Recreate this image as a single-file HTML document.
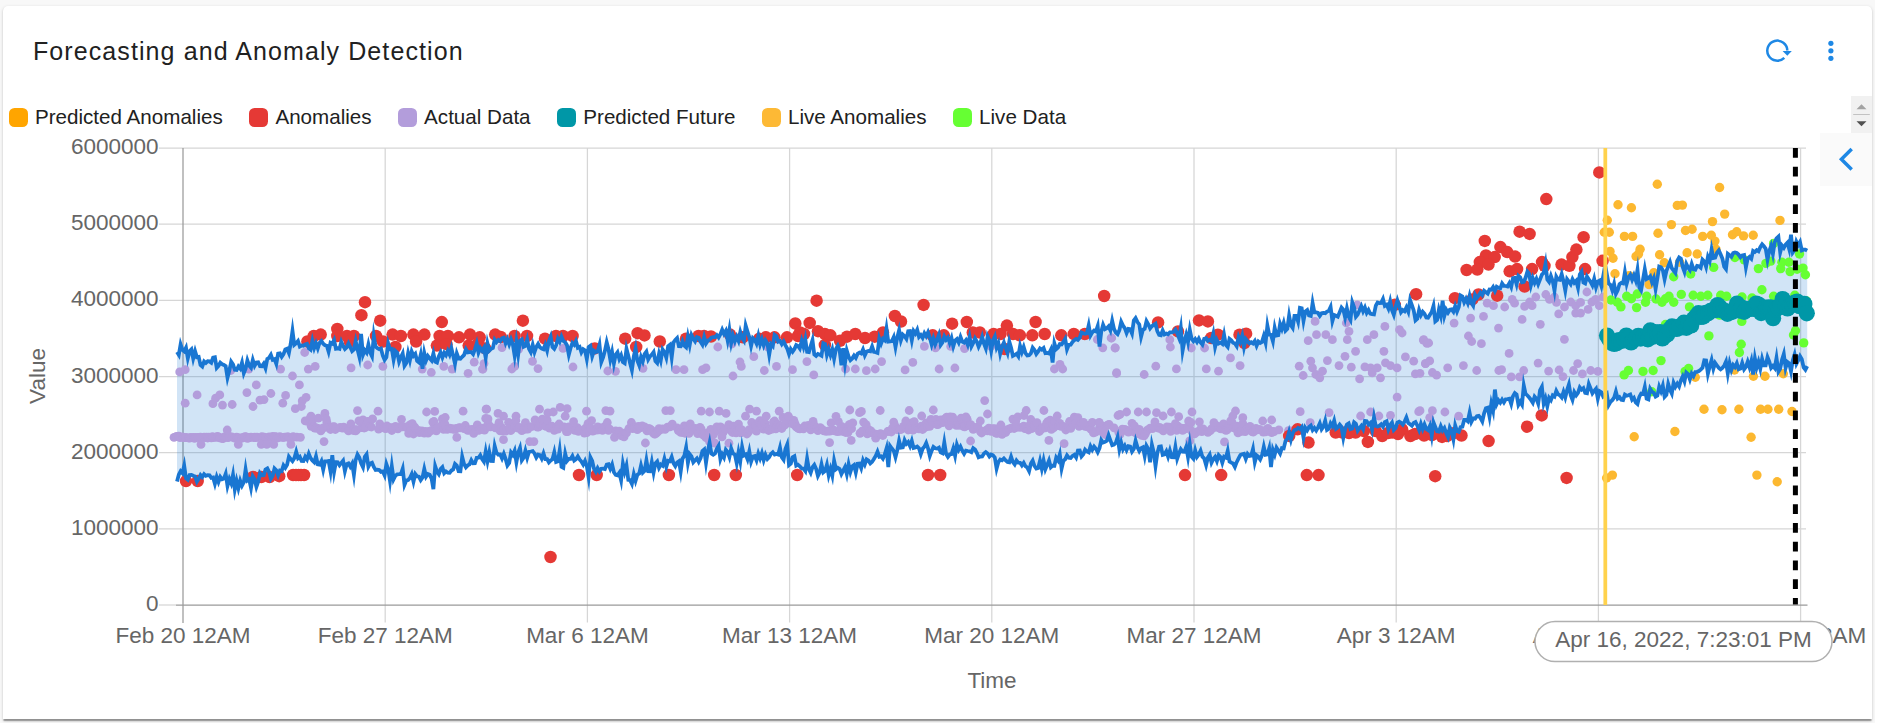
<!DOCTYPE html>
<html lang="en"><head><meta charset="utf-8"><title>Forecasting and Anomaly Detection</title>
<style>
html,body{margin:0;padding:0}
body{width:1877px;height:723px;overflow:hidden;background:#f8f8f8;position:relative;font-family:"Liberation Sans",Arial,sans-serif}
.card{position:absolute;left:3px;top:6px;width:1869px;height:713px;background:#fff;border-radius:5px 5px 0 0;
 box-shadow:0 2.5px 1.25px -1.25px rgba(0,0,0,.22),0 1.25px 1.25px 0 rgba(0,0,0,.16),0 1.25px 3.75px 0 rgba(0,0,0,.14)}
.title{position:absolute;left:33px;top:36px;font-size:25px;line-height:30px;letter-spacing:1.09px;color:#212121;white-space:nowrap}
.lm{position:absolute;top:108px;width:19px;height:19px;border-radius:5.5px}
.lt{position:absolute;top:105px;font-size:20.6px;line-height:24px;color:#212121;white-space:nowrap}
.chart{position:absolute;left:0;top:0}
.ax{font-family:"Liberation Sans",Arial,sans-serif;font-size:22.5px;fill:#666}
.icons{position:absolute;left:0;top:0}
.scr{position:absolute;left:1851px;top:96px;width:20.8px;height:37px;background:#f1f1f1}
.tog{position:absolute;left:1820px;top:133px;width:52px;height:52.5px;background:#fafafa}
</style></head><body>
<div class="card"></div><div style="position:absolute;left:1875px;top:0;width:2px;height:723px;background:#fff"></div>
<div class="title">Forecasting and Anomaly Detection</div>
<div class="legend"><span class="lm" style="left:9px;background:#ffa500"></span><span class="lt" style="left:35px">Predicted Anomalies</span><span class="lm" style="left:249.4px;background:#e53935"></span><span class="lt" style="left:275.4px">Anomalies</span><span class="lm" style="left:398.1px;background:#b39ddb"></span><span class="lt" style="left:424.1px">Actual Data</span><span class="lm" style="left:557.3px;background:#0097a7"></span><span class="lt" style="left:583.3px">Predicted Future</span><span class="lm" style="left:762px;background:#fdb935"></span><span class="lt" style="left:788px">Live Anomalies</span><span class="lm" style="left:953.1px;background:#66ff33"></span><span class="lt" style="left:979.1px">Live Data</span></div>
<div class="scr"></div>
<div class="tog"></div>
<svg class="chart" width="1877" height="723" viewBox="0 0 1877 723"><g stroke="#d6d6d6" stroke-width="1.25" fill="none"><line x1="159" y1="148" x2="1806" y2="148"/><line x1="159" y1="224.2" x2="1806" y2="224.2"/><line x1="159" y1="300.3" x2="1806" y2="300.3"/><line x1="159" y1="376.5" x2="1806" y2="376.5"/><line x1="159" y1="452.7" x2="1806" y2="452.7"/><line x1="159" y1="528.8" x2="1806" y2="528.8"/><line x1="159" y1="605" x2="176" y2="605"/><line x1="385.2" y1="148" x2="385.2" y2="622.5"/><line x1="587.4" y1="148" x2="587.4" y2="622.5"/><line x1="789.6" y1="148" x2="789.6" y2="622.5"/><line x1="991.8" y1="148" x2="991.8" y2="622.5"/><line x1="1194" y1="148" x2="1194" y2="622.5"/><line x1="1396.2" y1="148" x2="1396.2" y2="622.5"/><line x1="1598.4" y1="148" x2="1598.4" y2="622.5"/><line x1="1800.6" y1="148" x2="1800.6" y2="622.5"/></g><g stroke="#9a9a9a" stroke-width="1.25" fill="none"><line x1="183" y1="148" x2="183" y2="623"/><line x1="176" y1="605" x2="1807.5" y2="605"/></g><g class="ax" text-anchor="end"><text x="158.6" y="154">6000000</text><text x="158.6" y="230.2">5000000</text><text x="158.6" y="306.3">4000000</text><text x="158.6" y="382.5">3000000</text><text x="158.6" y="458.7">2000000</text><text x="158.6" y="534.8">1000000</text><text x="158.6" y="611">0</text></g><g class="ax" text-anchor="middle"><text x="183" y="643">Feb 20 12AM</text><text x="385.2" y="643">Feb 27 12AM</text><text x="587.4" y="643">Mar 6 12AM</text><text x="789.6" y="643">Mar 13 12AM</text><text x="991.8" y="643">Mar 20 12AM</text><text x="1194" y="643">Mar 27 12AM</text><text x="1396.2" y="643">Apr 3 12AM</text><text x="1598.4" y="643">Apr 10 12AM</text><text x="1800.6" y="643">Apr 17 12AM</text><text x="992" y="688">Time</text><text transform="translate(45,376) rotate(-90)">Value</text></g><path d="M177 352.1L178.8 354.9L180.6 344.5L182.4 349.9L184.2 351.4L186 347.8L187.8 358.3L189.6 351.2L191.4 349.4L193.2 358.5L195.1 351.2L196.9 357.2L198.7 356.9L200.5 364.9L202.3 366.5L204.1 361.4L205.9 363L207.7 361.2L209.5 361.4L211.3 362.7L213.1 357.6L214.9 357.2L216.7 367.9L218.5 365.9L220.3 362.6L222.1 364.1L223.9 365L225.7 366.1L227.5 377.7L229.4 370.4L231.2 361.7L233 364.3L234.8 369.8L236.6 370L238.4 366.4L240.2 368.6L242 362.6L243.8 373.1L245.6 368.6L247.4 360.4L249.2 365.5L251 367.7L252.8 360L254.6 365.8L256.4 362.5L258.2 362.3L260 366.1L261.9 366.2L263.7 363.7L265.5 368.2L267.3 358.9L269.1 357.8L270.9 354.8L272.7 359.8L274.5 359.2L276.3 363.9L278.1 353.7L279.9 353.4L281.7 356.8L283.5 354.2L285.3 349.4L287.1 348.7L288.9 353L290.7 343.7L292.5 330.8L294.3 344.8L296.2 343.2L298 341L299.8 346.5L301.6 345.5L303.4 345.8L305.2 344.4L307 343.8L308.8 348.3L310.6 349.7L312.4 340.8L314.2 348.1L316 343.2L317.8 348.3L319.6 342.7L321.4 340.9L323.2 343.7L325 345.2L326.8 345.7L328.6 351.7L330.5 342.8L332.3 343.7L334.1 340.1L335.9 348.7L337.7 348.3L339.5 348.9L341.3 341.8L343.1 346L344.9 349L346.7 347.3L348.5 343.4L350.3 347.2L352.1 351.2L353.9 349.5L355.7 341.1L357.5 349.2L359.3 356.5L361.1 334L363 354.8L364.8 350.3L366.6 352.6L368.4 344.4L370.2 352.6L372 356.3L373.8 335.8L375.6 346.6L377.4 348.1L379.2 349.2L381 348.5L382.8 355.6L384.6 359.9L386.4 357.3L388.2 343.4L390 349.2L391.8 348.9L393.6 359.8L395.4 351L397.3 352.8L399.1 361.8L400.9 357.3L402.7 353.5L404.5 365.8L406.3 363L408.1 353.1L409.9 360.3L411.7 351.5L413.5 355.8L415.3 353.8L417.1 361L418.9 362.4L420.7 354.7L422.5 368.8L424.3 353L426.1 360.4L427.9 356L429.7 358.3L431.6 360.5L433.4 353.4L435.2 361.7L437 362.6L438.8 356.3L440.6 352.5L442.4 357.6L444.2 352.8L446 355.2L447.8 350.8L449.6 354.7L451.4 348.3L453.2 355.8L455 363.9L456.8 353.5L458.6 358.5L460.4 358.8L462.2 356.8L464.1 354.9L465.9 349.3L467.7 352.4L469.5 352.2L471.3 352.1L473.1 354.1L474.9 349.3L476.7 343.4L478.5 352.6L480.3 348L482.1 350.8L483.9 347.9L485.7 358L487.5 343.4L489.3 350.6L491.1 348.9L492.9 348L494.7 339.7L496.5 342.2L498.4 339.9L500.2 341.1L502 338.3L503.8 337.7L505.6 343.3L507.4 339.2L509.2 344.4L511 339.5L512.8 344.3L514.6 355.5L516.4 341.9L518.2 354.6L520 340.8L521.8 339.4L523.6 346.8L525.4 345.9L527.2 339.5L529 348.8L530.8 352.1L532.7 344.9L534.5 352.2L536.3 347L538.1 343.9L539.9 347.3L541.7 348.5L543.5 349.2L545.3 344.6L547.1 350.5L548.9 341.4L550.7 336.8L552.5 347L554.3 348.8L556.1 345.4L557.9 338.6L559.7 341.8L561.5 336.7L563.3 340.9L565.2 342.4L567 345.1L568.8 354.7L570.6 347.9L572.4 343L574.2 344.8L576 341.1L577.8 347.7L579.6 346.8L581.4 352.4L583.2 349.2L585 350.3L586.8 359.1L588.6 347.1L590.4 345.8L592.2 356.3L594 350.8L595.8 352.1L597.6 351.6L599.5 344.8L601.3 362L603.1 357.3L604.9 350.8L606.7 342.2L608.5 349.2L610.3 359.8L612.1 352L613.9 363.5L615.7 354.7L617.5 352.3L619.3 358.9L621.1 355.3L622.9 362.1L624.7 363.3L626.5 348.7L628.3 355.6L630.1 363.2L631.9 370.1L633.8 356.4L635.6 348.4L637.4 360.7L639.2 365.3L641 356.9L642.8 361.4L644.6 354.1L646.4 351.6L648.2 359.4L650 356.3L651.8 354.5L653.6 352.1L655.4 361.1L657.2 363L659 353.9L660.8 360.3L662.6 349.4L664.4 352L666.3 357.8L668.1 346.3L669.9 344.8L671.7 357.5L673.5 342.5L675.3 339.9L677.1 338L678.9 346.2L680.7 346.3L682.5 341.1L684.3 345.7L686.1 347.3L687.9 336.6L689.7 345L691.5 335.1L693.3 338.7L695.1 341.4L696.9 337.1L698.7 337.8L700.6 341.9L702.4 344.7L704.2 337L706 343.5L707.8 340.7L709.6 339.7L711.4 337.7L713.2 337.1L715 337.2L716.8 335.2L718.6 337.5L720.4 334.2L722.2 329.7L724 333.9L725.8 330.9L727.6 340.2L729.4 329.8L731.2 343.1L733 335.5L734.9 341.2L736.7 336.7L738.5 340.8L740.3 332.1L742.1 337.9L743.9 340.7L745.7 325.6L747.5 331.5L749.3 337.1L751.1 346.1L752.9 338.1L754.7 339.8L756.5 343.6L758.3 335.9L760.1 344.5L761.9 339.2L763.7 345.3L765.5 340.4L767.4 343.4L769.2 354.8L771 344.1L772.8 346.1L774.6 334.8L776.4 336.1L778.2 341.6L780 340.8L781.8 344.1L783.6 341.5L785.4 345.1L787.2 348.5L789 354.1L790.8 349.1L792.6 351.7L794.4 349L796.2 345.1L798 346L799.8 348.6L801.7 340.7L803.5 346.8L805.3 339.2L807.1 351.9L808.9 352.1L810.7 346L812.5 340.2L814.3 354.5L816.1 355.9L817.9 354L819.7 354.7L821.5 355.7L823.3 343.3L825.1 344.1L826.9 355L828.7 349.3L830.5 355L832.3 349.5L834.1 358.8L836 349L837.8 345.8L839.6 350.3L841.4 365.2L843.2 348.1L845 363.3L846.8 350.6L848.6 356.6L850.4 360.2L852.2 358.5L854 355.5L855.8 357.9L857.6 353.7L859.4 352.6L861.2 353.5L863 349.5L864.8 355.3L866.6 351.6L868.5 350.9L870.3 351.3L872.1 346.4L873.9 351.9L875.7 352.2L877.5 352.9L879.3 338.5L881.1 343.6L882.9 338.9L884.7 340.3L886.5 328.7L888.3 341.7L890.1 341.4L891.9 341L893.7 337.1L895.5 347.1L897.3 337.3L899.1 330.2L900.9 340.2L902.8 334.6L904.6 336.2L906.4 338.9L908.2 331.3L910 331.1L911.8 340.4L913.6 330.9L915.4 333.5L917.2 329.8L919 336.9L920.8 335L922.6 337.8L924.4 333.2L926.2 336.2L928 332.3L929.8 337.5L931.6 344.4L933.4 338.3L935.2 344.3L937.1 339.7L938.9 334.8L940.7 345L942.5 342.5L944.3 336.5L946.1 339.9L947.9 337.6L949.7 342.8L951.5 337.9L953.3 346.3L955.1 340.5L956.9 339L958.7 342.5L960.5 336.9L962.3 341.7L964.1 342.6L965.9 340.3L967.7 344.7L969.6 336.9L971.4 346.6L973.2 343.1L975 338.4L976.8 341.6L978.6 346.8L980.4 342.8L982.2 336.9L984 343.8L985.8 348.5L987.6 336.4L989.4 340.4L991.2 350.8L993 340.3L994.8 336.6L996.6 347.4L998.4 343.2L1000.2 353.7L1002 346.9L1003.9 342.5L1005.7 348.1L1007.5 352.9L1009.3 341.6L1011.1 347.8L1012.9 355.9L1014.7 355L1016.5 353.8L1018.3 356.4L1020.1 346L1021.9 352L1023.7 347L1025.5 353.1L1027.3 355.4L1029.1 355.2L1030.9 353.3L1032.7 347.6L1034.5 349.9L1036.3 354.1L1038.2 351.5L1040 348.4L1041.8 349.7L1043.6 348.1L1045.4 353.2L1047.2 352.9L1049 353.5L1050.8 349.8L1052.6 362.6L1054.4 343.4L1056.2 349.1L1058 347.5L1059.8 344.1L1061.6 344.4L1063.4 341.9L1065.2 338.8L1067 349.4L1068.8 344.9L1070.7 344.8L1072.5 342L1074.3 340.2L1076.1 339L1077.9 339.9L1079.7 337.8L1081.5 332.5L1083.3 333.3L1085.1 333.7L1086.9 333.2L1088.7 325.3L1090.5 335.6L1092.3 332.4L1094.1 330.6L1095.9 331.4L1097.7 326.1L1099.5 346.5L1101.3 331.6L1103.1 324.8L1105 329.2L1106.8 328.3L1108.6 326.4L1110.4 330.4L1112.2 320.8L1114 328.9L1115.8 332.6L1117.6 334.2L1119.4 330.1L1121.2 321.8L1123 325.6L1124.8 328.2L1126.6 333.1L1128.4 328.8L1130.2 329.2L1132 333.5L1133.8 320.6L1135.6 318.2L1137.5 322.1L1139.3 324.4L1141.1 336.8L1142.9 329.8L1144.7 328.7L1146.5 321.1L1148.3 324.3L1150.1 328.4L1151.9 326.1L1153.7 324.9L1155.5 323.7L1157.3 331.2L1159.1 334.8L1160.9 335.2L1162.7 330.4L1164.5 334.4L1166.3 333.5L1168.1 334.3L1169.9 332.3L1171.8 332.3L1173.6 331.9L1175.4 329.7L1177.2 333.2L1179 337.8L1180.8 327.9L1182.6 350.7L1184.4 341.1L1186.2 334.7L1188 342.1L1189.8 329.7L1191.6 338.7L1193.4 341.2L1195.2 339L1197 342L1198.8 338.7L1200.6 342.5L1202.4 344.6L1204.2 338.7L1206.1 338.2L1207.9 340.8L1209.7 340L1211.5 341.3L1213.3 333.8L1215.1 347L1216.9 340L1218.7 343.5L1220.5 342.6L1222.3 343.9L1224.1 334.9L1225.9 345L1227.7 347L1229.5 338.8L1231.3 340.3L1233.1 342.8L1234.9 343.5L1236.7 346.2L1238.6 337L1240.4 341.3L1242.2 335.7L1244 347.2L1245.8 339.1L1247.6 341.4L1249.4 343.4L1251.2 342.3L1253 343.4L1254.8 341L1256.6 345.9L1258.4 341.5L1260.2 342.9L1262 341.9L1263.8 335.9L1265.6 342.7L1267.4 325.5L1269.2 334.5L1271 334.8L1272.9 341.3L1274.7 327.8L1276.5 335.5L1278.3 335.2L1280.1 324L1281.9 328.9L1283.7 322.8L1285.5 330.7L1287.3 328.8L1289.1 315.7L1290.9 325.2L1292.7 327.9L1294.5 315.8L1296.3 315.7L1298.1 321.6L1299.9 307.8L1301.7 308.3L1303.5 320.9L1305.3 311.6L1307.2 310.1L1309 315.4L1310.8 315.9L1312.6 302.9L1314.4 312.3L1316.2 312.3L1318 312.9L1319.8 315.8L1321.6 313.3L1323.4 313L1325.2 313.2L1327 311.6L1328.8 310.9L1330.6 307L1332.4 321.1L1334.2 315L1336 315.8L1337.8 316.7L1339.7 312.1L1341.5 307.6L1343.3 309.7L1345.1 317.5L1346.9 308.5L1348.7 316.7L1350.5 319.9L1352.3 302.3L1354.1 307.2L1355.9 316.8L1357.7 314.6L1359.5 310.2L1361.3 306.2L1363.1 311.3L1364.9 307.5L1366.7 312.9L1368.5 310L1370.3 313.7L1372.1 314.1L1374 314.4L1375.8 305.7L1377.6 302.5L1379.4 303L1381.2 302.9L1383 299L1384.8 305.9L1386.6 304.8L1388.4 308.7L1390.2 301.3L1392 310.2L1393.8 314.8L1395.6 306.9L1397.4 300.5L1399.2 306.1L1401 312.3L1402.8 310.1L1404.6 311.3L1406.4 307.4L1408.3 311.8L1410.1 300.1L1411.9 305.1L1413.7 310.5L1415.5 320.3L1417.3 318.7L1419.1 310L1420.9 315.1L1422.7 311.8L1424.5 313.9L1426.3 317.5L1428.1 317.8L1429.9 314.8L1431.7 312L1433.5 305.9L1435.3 321.4L1437.1 319.9L1438.9 309.6L1440.8 316L1442.6 300.6L1444.4 315.9L1446.2 309.7L1448 312.7L1449.8 309.7L1451.6 309.4L1453.4 311.8L1455.2 306.1L1457 311.5L1458.8 306.9L1460.6 295.5L1462.4 296.6L1464.2 302.3L1466 298.8L1467.8 303.1L1469.6 295.8L1471.4 302.9L1473.2 305.7L1475.1 294.8L1476.9 297.9L1478.7 295.5L1480.5 292.7L1482.3 295L1484.1 290.8L1485.9 292.3L1487.7 293.6L1489.5 289.5L1491.3 289.7L1493.1 287L1494.9 291L1496.7 286.7L1498.5 287.8L1500.3 288.3L1502.1 283.4L1503.9 285.9L1505.7 286L1507.5 286.5L1509.4 283.1L1511.2 287L1513 278.2L1514.8 277.9L1516.6 284.3L1518.4 275.7L1520.2 277.3L1522 282.3L1523.8 281.9L1525.6 277.5L1527.4 271.6L1529.2 273.7L1531 285L1532.8 278.2L1534.6 282.9L1536.4 278.9L1538.2 284.1L1540 279.6L1541.9 274.6L1543.7 272.9L1545.5 263.8L1547.3 279.6L1549.1 281.9L1550.9 276L1552.7 281L1554.5 290.8L1556.3 276.6L1558.1 279.6L1559.9 279.9L1561.7 274.1L1563.5 281.1L1565.3 290.6L1567.1 279.2L1568.9 281.6L1570.7 284.2L1572.5 279.2L1574.3 282.7L1576.2 280.7L1578 287.7L1579.8 274.4L1581.6 271.7L1583.4 282.5L1585.2 283.5L1587 276.6L1588.8 279.3L1590.6 281.8L1592.4 285.3L1594.2 278.8L1596 287.3L1597.8 281.4L1599.6 280.4L1601.4 286.1L1603.2 276.1L1605 286.4L1606.8 273.8L1608.6 283.5L1610.5 285L1612.3 290.3L1614.1 283.9L1615.9 293.9L1617.7 290.4L1619.5 284.1L1621.3 282.9L1623.1 283.4L1624.9 272.2L1626.7 283.7L1628.5 277.3L1630.3 274.8L1632.1 279.7L1633.9 275.2L1635.7 280.3L1637.5 269.7L1639.3 287.6L1641.1 290.3L1643 279.7L1644.8 269.1L1646.6 279L1648.4 278L1650.2 276.3L1652 282.3L1653.8 278.1L1655.6 289.1L1657.4 278.5L1659.2 266.5L1661 267.2L1662.8 270.2L1664.6 279.3L1666.4 271L1668.2 266.4L1670 262L1671.8 268.2L1673.6 270.5L1675.4 272.9L1677.3 260.8L1679.1 257.5L1680.9 258.7L1682.7 267.1L1684.5 272L1686.3 263.9L1688.1 267.6L1689.9 270.1L1691.7 263.9L1693.5 269.2L1695.3 269.7L1697.1 265.8L1698.9 266.2L1700.7 267.7L1702.5 259.6L1704.3 261.4L1706.1 266.9L1707.9 256.9L1709.7 261.1L1711.6 249.3L1713.4 258L1715.2 257.7L1717 252.6L1718.8 250.3L1720.6 254.2L1722.4 258.6L1724.2 266.6L1726 269.1L1727.8 253.8L1729.6 255.3L1731.4 256.8L1733.2 253.1L1735 252.5L1736.8 253L1738.6 254.6L1740.4 257.3L1742.2 255.4L1744.1 255L1745.9 267.4L1747.7 258.4L1749.5 256.9L1751.3 258.7L1753.1 250.9L1754.9 252L1756.7 250.2L1758.5 251.3L1760.3 247.1L1762.1 244.3L1763.9 246.3L1765.7 248.7L1767.5 259.7L1769.3 251L1771.1 245.8L1772.9 254L1774.7 242.2L1776.5 238.5L1778.4 236.7L1780.2 252.5L1782 245.6L1783.8 247.8L1785.6 244.5L1787.4 242.6L1789.2 249.1L1791 234.8L1792.8 252.5L1794.6 250L1796.4 241.6L1798.2 245.1L1800 242L1801.8 250.4L1803.6 249.7L1805.4 249.6L1807.2 250.6L1807.2 366.1L1805.4 369.8L1803.6 367.5L1801.8 359.3L1800 356.2L1798.2 360.4L1796.4 363.9L1794.6 354.5L1792.8 360.2L1791 371.4L1789.2 363.4L1787.4 362L1785.6 368.1L1783.8 354L1782 359.8L1780.2 368.7L1778.4 371.7L1776.5 357.9L1774.7 368.1L1772.9 365.9L1771.1 367.9L1769.3 361.6L1767.5 357.1L1765.7 365.3L1763.9 365.3L1762.1 358.9L1760.3 368.7L1758.5 361.7L1756.7 367.5L1754.9 358.3L1753.1 374.6L1751.3 360.9L1749.5 367.2L1747.7 361.6L1745.9 366.9L1744.1 369.3L1742.2 362.9L1740.4 368.6L1738.6 369.3L1736.8 363.3L1735 367.1L1733.2 364.9L1731.4 369.9L1729.6 363.2L1727.8 373.6L1726 361.6L1724.2 365.6L1722.4 367.9L1720.6 369.3L1718.8 367.9L1717 365.5L1715.2 363L1713.4 368.7L1711.6 360L1709.7 366.5L1707.9 373.8L1706.1 360.4L1704.3 360.2L1702.5 367.9L1700.7 369.7L1698.9 371.1L1697.1 371.8L1695.3 372L1693.5 376.1L1691.7 373.5L1689.9 379.4L1688.1 374L1686.3 372.5L1684.5 381.4L1682.7 376.4L1680.9 380.3L1679.1 386.5L1677.3 383.6L1675.4 386.9L1673.6 382.8L1671.8 393.6L1670 389.8L1668.2 383.9L1666.4 395L1664.6 396.9L1662.8 385.6L1661 391.3L1659.2 386.8L1657.4 395.6L1655.6 396.6L1653.8 392.9L1652 391.7L1650.2 388.8L1648.4 399.4L1646.6 398.7L1644.8 386.8L1643 394.1L1641.1 393.7L1639.3 396.9L1637.5 404L1635.7 402.3L1633.9 397.8L1632.1 399.7L1630.3 394.5L1628.5 395.3L1626.7 395.7L1624.9 394.6L1623.1 400.1L1621.3 399.7L1619.5 397.2L1617.7 398.5L1615.9 391.5L1614.1 397.7L1612.3 400.2L1610.5 401.8L1608.6 405.2L1606.8 393.6L1605 395.2L1603.2 396.5L1601.4 392.3L1599.6 391.2L1597.8 398.5L1596 388.7L1594.2 390.8L1592.4 393.3L1590.6 388.5L1588.8 384L1587 393.3L1585.2 392.9L1583.4 388.1L1581.6 389.6L1579.8 387.4L1578 392.9L1576.2 395.4L1574.3 392.1L1572.5 399.9L1570.7 395.2L1568.9 384.4L1567.1 390.1L1565.3 397.4L1563.5 391.9L1561.7 397.5L1559.9 395.3L1558.1 394.3L1556.3 390.9L1554.5 396.6L1552.7 395.4L1550.9 400.2L1549.1 397.9L1547.3 406.3L1545.5 398.3L1543.7 403.6L1541.9 386.7L1540 390.3L1538.2 403.7L1536.4 398.7L1534.6 396.6L1532.8 402.7L1531 399.9L1529.2 397.5L1527.4 395.5L1525.6 393.8L1523.8 385.4L1522 404.7L1520.2 401.7L1518.4 404.8L1516.6 394.5L1514.8 393L1513 396.1L1511.2 404L1509.4 398.7L1507.5 399.1L1505.7 399.3L1503.9 402.4L1502.1 399.6L1500.3 402.7L1498.5 400.3L1496.7 404.1L1494.9 389.6L1493.1 410.6L1491.3 403.6L1489.5 416.7L1487.7 407.7L1485.9 408.3L1484.1 413.3L1482.3 421.4L1480.5 418.1L1478.7 415.8L1476.9 416.1L1475.1 418.7L1473.2 418.3L1471.4 421.8L1469.6 412.6L1467.8 421.2L1466 419.7L1464.2 419.8L1462.4 426.7L1460.6 427.1L1458.8 431.8L1457 431.1L1455.2 425.4L1453.4 439.2L1451.6 430.9L1449.8 427.5L1448 436.9L1446.2 433L1444.4 428L1442.6 430.5L1440.8 426.2L1438.9 431.7L1437.1 431.4L1435.3 426.9L1433.5 422.4L1431.7 435.9L1429.9 425.9L1428.1 430.1L1426.3 428.9L1424.5 424.4L1422.7 429.1L1420.9 423.9L1419.1 429.9L1417.3 425.5L1415.5 422L1413.7 423L1411.9 425.7L1410.1 424.3L1408.3 423L1406.4 417.5L1404.6 421.6L1402.8 424.6L1401 422.7L1399.2 421.7L1397.4 422.5L1395.6 428.1L1393.8 430L1392 422.5L1390.2 424.9L1388.4 429.4L1386.6 421.3L1384.8 422.2L1383 426.7L1381.2 424.3L1379.4 425.8L1377.6 426.5L1375.8 425.8L1374 417.1L1372.1 429.6L1370.3 423L1368.5 424.6L1366.7 421.2L1364.9 420.9L1363.1 429L1361.3 425.8L1359.5 428.1L1357.7 430.6L1355.9 423.8L1354.1 422.3L1352.3 428.6L1350.5 429.2L1348.7 423.4L1346.9 424.6L1345.1 429L1343.3 437.7L1341.5 426.9L1339.7 424.7L1337.8 427.4L1336 428.8L1334.2 420.7L1332.4 426.2L1330.6 423.4L1328.8 428.7L1327 429.9L1325.2 420.6L1323.4 426.7L1321.6 429.3L1319.8 423.3L1318 427.3L1316.2 430.5L1314.4 427.9L1312.6 430.1L1310.8 425.6L1309 427L1307.2 430.3L1305.3 427.7L1303.5 437.6L1301.7 427.1L1299.9 429L1298.1 427.8L1296.3 429.6L1294.5 430.1L1292.7 432.9L1290.9 439.6L1289.1 432.1L1287.3 438.6L1285.5 441L1283.7 448.4L1281.9 448.1L1280.1 453.6L1278.3 450.6L1276.5 447.7L1274.7 454.6L1272.9 449.9L1271 467L1269.2 448.3L1267.4 454.3L1265.6 454.7L1263.8 446.8L1262 455.3L1260.2 459.5L1258.4 456.9L1256.6 455.4L1254.8 462.2L1253 448.9L1251.2 455.6L1249.4 456L1247.6 453.9L1245.8 458.9L1244 453.8L1242.2 454.4L1240.4 455L1238.6 458.4L1236.7 462.2L1234.9 466.9L1233.1 463.5L1231.3 462.7L1229.5 461.6L1227.7 450.7L1225.9 457.6L1224.1 456.7L1222.3 462.8L1220.5 456.9L1218.7 455.1L1216.9 461.2L1215.1 456.9L1213.3 459.1L1211.5 462.7L1209.7 454.7L1207.9 457.6L1206.1 465.1L1204.2 458.5L1202.4 456.7L1200.6 450.7L1198.8 454.4L1197 456.8L1195.2 450.3L1193.4 458.7L1191.6 456.6L1189.8 444.1L1188 457L1186.2 446.9L1184.4 451.7L1182.6 451.6L1180.8 449.2L1179 453.4L1177.2 458.7L1175.4 446.9L1173.6 457.3L1171.8 457.2L1169.9 450.5L1168.1 456.7L1166.3 451.3L1164.5 454.3L1162.7 454.8L1160.9 446.3L1159.1 446.6L1157.3 453.4L1155.5 466.2L1153.7 452.1L1151.9 444.7L1150.1 462.2L1148.3 449L1146.5 445.8L1144.7 456.1L1142.9 447.2L1141.1 448.1L1139.3 451L1137.5 447.3L1135.6 440.8L1133.8 449L1132 451.6L1130.2 446.5L1128.4 446.1L1126.6 450.1L1124.8 445.9L1123 449.2L1121.2 442.5L1119.4 449.5L1117.6 437.2L1115.8 442.8L1114 444.5L1112.2 445.1L1110.4 440.3L1108.6 435.3L1106.8 440.8L1105 441.9L1103.1 442.6L1101.3 440.1L1099.5 448.1L1097.7 452.2L1095.9 448.7L1094.1 446.5L1092.3 449.8L1090.5 446.3L1088.7 452.3L1086.9 451.5L1085.1 449.7L1083.3 454.3L1081.5 456.4L1079.7 450.4L1077.9 450.5L1076.1 457.5L1074.3 454.8L1072.5 455.9L1070.7 458L1068.8 457.7L1067 455.4L1065.2 459.3L1063.4 460.8L1061.6 468.6L1059.8 454.3L1058 460.3L1056.2 457.6L1054.4 465.7L1052.6 465.6L1050.8 467.3L1049 460.5L1047.2 464.9L1045.4 469.2L1043.6 460.4L1041.8 468.9L1040 460.7L1038.2 468L1036.3 468.5L1034.5 466L1032.7 460.6L1030.9 463.5L1029.1 471.1L1027.3 467.6L1025.5 466.3L1023.7 462.8L1021.9 465.4L1020.1 462.7L1018.3 462.6L1016.5 460.5L1014.7 464.4L1012.9 462.1L1011.1 456.8L1009.3 462.3L1007.5 462L1005.7 460.5L1003.9 458.4L1002 460.3L1000.2 459.5L998.4 462.1L996.6 468.7L994.8 457.5L993 455.4L991.2 454.6L989.4 456.4L987.6 453.5L985.8 452.1L984 453.6L982.2 456.5L980.4 456.6L978.6 457.3L976.8 452.9L975 449.5L973.2 448.1L971.4 452.2L969.6 451.3L967.7 451L965.9 450.6L964.1 453.8L962.3 450.7L960.5 446.6L958.7 449.8L956.9 444.8L955.1 455.9L953.3 448.5L951.5 454.1L949.7 454.5L947.9 456.9L946.1 453.9L944.3 442.4L942.5 453.3L940.7 452.4L938.9 447.7L937.1 448.6L935.2 448.3L933.4 446.9L931.6 450.9L929.8 455.9L928 448.2L926.2 442.9L924.4 446.7L922.6 448.8L920.8 454.2L919 448.3L917.2 446.5L915.4 447.5L913.6 447.9L911.8 440.8L910 446.1L908.2 442.1L906.4 443.9L904.6 440.2L902.8 447.4L900.9 447.7L899.1 440.6L897.3 450.2L895.5 457.2L893.7 450.8L891.9 448.5L890.1 446L888.3 467.1L886.5 448.5L884.7 454.6L882.9 458.6L881.1 456.3L879.3 456.7L877.5 451.7L875.7 455.9L873.9 459L872.1 461.9L870.3 463.5L868.5 460.7L866.6 459.4L864.8 464.5L863 460.4L861.2 468.2L859.4 463.6L857.6 463.8L855.8 472.4L854 465L852.2 466.4L850.4 472L848.6 464.2L846.8 474.2L845 467.1L843.2 470.6L841.4 474.1L839.6 469L837.8 467.8L836 469.2L834.1 460.6L832.3 475.6L830.5 468.8L828.7 475.2L826.9 464.6L825.1 470.9L823.3 472.4L821.5 464.2L819.7 472.4L817.9 476L816.1 468.8L814.3 464.8L812.5 467.1L810.7 472.8L808.9 469.1L807.1 458.6L805.3 471L803.5 468.6L801.7 468.5L799.8 466.3L798 464.7L796.2 465.7L794.4 456.2L792.6 457.2L790.8 463.7L789 465.1L787.2 444.6L785.4 449.1L783.6 459.8L781.8 457.3L780 447.6L778.2 454.5L776.4 453.9L774.6 454.6L772.8 452.2L771 453.9L769.2 457L767.4 458.9L765.5 454.7L763.7 460.2L761.9 453.1L760.1 458.4L758.3 453.5L756.5 460.4L754.7 456.1L752.9 456.6L751.1 461.6L749.3 451.3L747.5 459.1L745.7 454.5L743.9 455.5L742.1 447L740.3 461.3L738.5 452.4L736.7 463.1L734.9 454.6L733 453.5L731.2 448.6L729.4 457.1L727.6 452L725.8 449.7L724 457.5L722.2 454.2L720.4 459.2L718.6 445.8L716.8 448.8L715 453.6L713.2 454.7L711.4 453.6L709.6 442.7L707.8 450.9L706 462.9L704.2 449.4L702.4 451L700.6 458L698.7 461.9L696.9 458.4L695.1 460.3L693.3 462.3L691.5 456.3L689.7 454.1L687.9 463L686.1 447.4L684.3 455.8L682.5 458.7L680.7 471.6L678.9 461.2L677.1 462.5L675.3 466.2L673.5 463.3L671.7 457L669.9 461.3L668.1 460.8L666.3 466.9L664.4 458.8L662.6 465.7L660.8 464.5L659 467.8L657.2 461.5L655.4 463.4L653.6 472.5L651.8 462.1L650 471.2L648.2 471.1L646.4 460.1L644.6 470.8L642.8 472.6L641 465.6L639.2 473.6L637.4 474.8L635.6 480.7L633.8 474.1L631.9 483.8L630.1 480.1L628.3 479.9L626.5 465.5L624.7 471.8L622.9 463.6L621.1 480.3L619.3 472.7L617.5 475.3L615.7 474.8L613.9 472.3L612.1 464.6L610.3 468.8L608.5 464.3L606.7 464.7L604.9 469.1L603.1 468.6L601.3 468.7L599.5 471.4L597.6 468L595.8 471.8L594 468.9L592.2 460.8L590.4 457.2L588.6 477.1L586.8 466.1L585 460.8L583.2 464.5L581.4 461.5L579.6 459.5L577.8 456.4L576 459.2L574.2 460.6L572.4 456L570.6 458.9L568.8 458.8L567 461L565.2 453.6L563.3 467.8L561.5 466.9L559.7 450.2L557.9 461.4L556.1 462L554.3 452.2L552.5 459.3L550.7 460.5L548.9 462.4L547.1 459L545.3 459L543.5 453.4L541.7 458.5L539.9 455.1L538.1 454.7L536.3 457.5L534.5 453.4L532.7 451.1L530.8 451.5L529 451.8L527.2 457.8L525.4 450.8L523.6 457.6L521.8 460.3L520 447.8L518.2 452.4L516.4 462.3L514.6 450.7L512.8 454.9L511 452.4L509.2 462.9L507.4 465.4L505.6 458.9L503.8 453.8L502 458.4L500.2 454.5L498.4 454.7L496.5 452.8L494.7 446.1L492.9 461L491.1 460.9L489.3 452.1L487.5 461.1L485.7 451.5L483.9 461.6L482.1 459L480.3 455.2L478.5 457.8L476.7 457.9L474.9 463.3L473.1 463.4L471.3 460.2L469.5 464.5L467.7 465.4L465.9 467.3L464.1 464.1L462.2 456.7L460.4 471.4L458.6 471.3L456.8 465.5L455 463.9L453.2 469.5L451.4 470.5L449.6 472.8L447.8 472.7L446 471.5L444.2 473.2L442.4 467.2L440.6 469.1L438.8 474.2L437 471.6L435.2 466.2L433.4 489.2L431.6 478.6L429.7 474.8L427.9 474L426.1 476.7L424.3 468.9L422.5 477.5L420.7 480.1L418.9 476.6L417.1 476.3L415.3 474L413.5 481.6L411.7 474.2L409.9 478L408.1 480L406.3 480.5L404.5 484.8L402.7 468.6L400.9 474L399.1 474.2L397.3 474.3L395.4 475.7L393.6 479.3L391.8 466.2L390 480.9L388.2 469.1L386.4 464.1L384.6 475.4L382.8 471.5L381 471.9L379.2 470L377.4 469.7L375.6 470L373.8 467L372 462.7L370.2 463.4L368.4 466.7L366.6 454.3L364.8 456.8L363 467.1L361.1 463.2L359.3 457.4L357.5 454.4L355.7 460L353.9 474.9L352.1 463.5L350.3 466.6L348.5 463.3L346.7 464.1L344.9 471.2L343.1 460.6L341.3 462.8L339.5 465.2L337.7 462.3L335.9 462.1L334.1 471.8L332.3 455.2L330.5 471.3L328.6 460.9L326.8 461.3L325 461.3L323.2 469.7L321.4 461.2L319.6 464.6L317.8 464.3L316 456.2L314.2 462.3L312.4 460.6L310.6 458.1L308.8 453.7L307 459.4L305.2 456.7L303.4 461.1L301.6 461L299.8 456.8L298 458.3L296.2 451.7L294.3 458.2L292.5 461.1L290.7 459L288.9 456.6L287.1 464.8L285.3 467.8L283.5 465.3L281.7 471.1L279.9 470.5L278.1 475.1L276.3 470.2L274.5 468.4L272.7 475.8L270.9 478.6L269.1 472L267.3 468.4L265.5 469.4L263.7 475.3L261.9 475.4L260 473L258.2 481.7L256.4 486.9L254.6 479.3L252.8 476.4L251 487.9L249.2 479.3L247.4 480.5L245.6 469.3L243.8 482.2L242 485.6L240.2 480.7L238.4 488.2L236.6 480.8L234.8 489.5L233 474.7L231.2 483.3L229.4 479L227.5 485.9L225.7 473.7L223.9 478.6L222.1 479.3L220.3 476.9L218.5 481.9L216.7 476.9L214.9 483.9L213.1 477.5L211.3 477.9L209.5 475.3L207.7 475.1L205.9 475.8L204.1 474.2L202.3 477.1L200.5 475.1L198.7 478.6L196.9 481.6L195.1 476.4L193.2 475.8L191.4 474.9L189.6 475L187.8 479.7L186 478.2L184.2 465.6L182.4 473.1L180.6 471.2L178.8 474.7L177 481.5Z" fill="#1976d2" fill-opacity="0.2" stroke="none"/><g fill="#b39ddb"><circle cx="174" cy="437.4" r="4.4"/><circle cx="176.4" cy="436.5" r="4.4"/><circle cx="178.8" cy="436.2" r="4.4"/><circle cx="180" cy="437.7" r="4.4"/><circle cx="182.4" cy="437" r="4.4"/><circle cx="183.6" cy="437.5" r="4.4"/><circle cx="184.8" cy="437.7" r="4.4"/><circle cx="186" cy="437.4" r="4.4"/><circle cx="188.4" cy="437.9" r="4.4"/><circle cx="189.6" cy="438.2" r="4.4"/><circle cx="190.8" cy="437.4" r="4.4"/><circle cx="193.3" cy="437.4" r="4.4"/><circle cx="194.5" cy="438.4" r="4.4"/><circle cx="195.7" cy="437.3" r="4.4"/><circle cx="198.1" cy="437.3" r="4.4"/><circle cx="200.5" cy="437.1" r="4.4"/><circle cx="204.1" cy="437.2" r="4.4"/><circle cx="205.3" cy="437.6" r="4.4"/><circle cx="206.5" cy="437.2" r="4.4"/><circle cx="207.7" cy="438" r="4.4"/><circle cx="208.9" cy="437.2" r="4.4"/><circle cx="211.3" cy="437.8" r="4.4"/><circle cx="212.5" cy="436.6" r="4.4"/><circle cx="213.7" cy="437.5" r="4.4"/><circle cx="216.1" cy="437.4" r="4.4"/><circle cx="217.3" cy="436.4" r="4.4"/><circle cx="218.5" cy="437" r="4.4"/><circle cx="219.7" cy="437.9" r="4.4"/><circle cx="220.9" cy="437.9" r="4.4"/><circle cx="222.1" cy="438.5" r="4.4"/><circle cx="223.3" cy="438.5" r="4.4"/><circle cx="224.5" cy="436.9" r="4.4"/><circle cx="225.8" cy="436.5" r="4.4"/><circle cx="227" cy="437.3" r="4.4"/><circle cx="228.2" cy="437.7" r="4.4"/><circle cx="229.4" cy="436.5" r="4.4"/><circle cx="231.8" cy="437" r="4.4"/><circle cx="234.2" cy="438" r="4.4"/><circle cx="236.6" cy="437.2" r="4.4"/><circle cx="237.8" cy="437.8" r="4.4"/><circle cx="239" cy="437.9" r="4.4"/><circle cx="241.4" cy="438" r="4.4"/><circle cx="242.6" cy="438" r="4.4"/><circle cx="243.8" cy="437.3" r="4.4"/><circle cx="245" cy="436.6" r="4.4"/><circle cx="246.2" cy="436.9" r="4.4"/><circle cx="247.4" cy="438.4" r="4.4"/><circle cx="248.6" cy="437.8" r="4.4"/><circle cx="249.8" cy="437.5" r="4.4"/><circle cx="251" cy="437.2" r="4.4"/><circle cx="253.4" cy="437.5" r="4.4"/><circle cx="254.6" cy="437.2" r="4.4"/><circle cx="255.8" cy="437.6" r="4.4"/><circle cx="257" cy="437.1" r="4.4"/><circle cx="261.9" cy="436.6" r="4.4"/><circle cx="263.1" cy="437.5" r="4.4"/><circle cx="264.3" cy="437.2" r="4.4"/><circle cx="265.5" cy="437.6" r="4.4"/><circle cx="269.1" cy="436.9" r="4.4"/><circle cx="270.3" cy="437.4" r="4.4"/><circle cx="271.5" cy="437.6" r="4.4"/><circle cx="272.7" cy="436.4" r="4.4"/><circle cx="273.9" cy="437.5" r="4.4"/><circle cx="275.1" cy="436.6" r="4.4"/><circle cx="276.3" cy="436.9" r="4.4"/><circle cx="277.5" cy="438" r="4.4"/><circle cx="278.7" cy="437.5" r="4.4"/><circle cx="279.9" cy="436.6" r="4.4"/><circle cx="282.3" cy="437.3" r="4.4"/><circle cx="283.5" cy="437.4" r="4.4"/><circle cx="284.7" cy="437.1" r="4.4"/><circle cx="287.1" cy="436.9" r="4.4"/><circle cx="288.3" cy="437" r="4.4"/><circle cx="289.5" cy="438" r="4.4"/><circle cx="291.9" cy="438" r="4.4"/><circle cx="293.2" cy="436.6" r="4.4"/><circle cx="296.8" cy="437.1" r="4.4"/><circle cx="300.4" cy="437.3" r="4.4"/><circle cx="305.2" cy="420.9" r="4.4"/><circle cx="307.6" cy="421.4" r="4.4"/><circle cx="310" cy="418.7" r="4.4"/><circle cx="311.2" cy="426.3" r="4.4"/><circle cx="312.4" cy="420.8" r="4.4"/><circle cx="313.6" cy="426.5" r="4.4"/><circle cx="314.8" cy="428.1" r="4.4"/><circle cx="316" cy="427.8" r="4.4"/><circle cx="317.2" cy="428.1" r="4.4"/><circle cx="318.4" cy="418.1" r="4.4"/><circle cx="319.6" cy="429" r="4.4"/><circle cx="320.8" cy="430.9" r="4.4"/><circle cx="322" cy="428.8" r="4.4"/><circle cx="323.2" cy="428" r="4.4"/><circle cx="326.9" cy="422.3" r="4.4"/><circle cx="328.1" cy="427.4" r="4.4"/><circle cx="330.5" cy="429.5" r="4.4"/><circle cx="331.7" cy="427.5" r="4.4"/><circle cx="332.9" cy="426.8" r="4.4"/><circle cx="334.1" cy="426.6" r="4.4"/><circle cx="335.3" cy="429.5" r="4.4"/><circle cx="340.1" cy="427.5" r="4.4"/><circle cx="342.5" cy="428.2" r="4.4"/><circle cx="343.7" cy="427.1" r="4.4"/><circle cx="346.1" cy="428.5" r="4.4"/><circle cx="348.5" cy="430.9" r="4.4"/><circle cx="349.7" cy="429.3" r="4.4"/><circle cx="350.9" cy="423.9" r="4.4"/><circle cx="353.3" cy="430.5" r="4.4"/><circle cx="354.5" cy="429.7" r="4.4"/><circle cx="355.7" cy="430.9" r="4.4"/><circle cx="356.9" cy="429.6" r="4.4"/><circle cx="361.8" cy="427.7" r="4.4"/><circle cx="363" cy="419.8" r="4.4"/><circle cx="364.2" cy="428" r="4.4"/><circle cx="365.4" cy="427.3" r="4.4"/><circle cx="367.8" cy="421.5" r="4.4"/><circle cx="370.2" cy="426.5" r="4.4"/><circle cx="371.4" cy="427" r="4.4"/><circle cx="372.6" cy="418.9" r="4.4"/><circle cx="378.6" cy="429.2" r="4.4"/><circle cx="379.8" cy="423.9" r="4.4"/><circle cx="383.4" cy="427.6" r="4.4"/><circle cx="384.6" cy="428.2" r="4.4"/><circle cx="385.8" cy="428.7" r="4.4"/><circle cx="387" cy="426" r="4.4"/><circle cx="389.4" cy="427.4" r="4.4"/><circle cx="391.8" cy="430.5" r="4.4"/><circle cx="393" cy="427.6" r="4.4"/><circle cx="395.5" cy="426.4" r="4.4"/><circle cx="397.9" cy="428.9" r="4.4"/><circle cx="399.1" cy="427.2" r="4.4"/><circle cx="401.5" cy="419.3" r="4.4"/><circle cx="402.7" cy="426.8" r="4.4"/><circle cx="406.3" cy="426.9" r="4.4"/><circle cx="407.5" cy="428.2" r="4.4"/><circle cx="408.7" cy="433.4" r="4.4"/><circle cx="409.9" cy="424.9" r="4.4"/><circle cx="411.1" cy="430.3" r="4.4"/><circle cx="412.3" cy="423.6" r="4.4"/><circle cx="413.5" cy="434" r="4.4"/><circle cx="414.7" cy="427.2" r="4.4"/><circle cx="415.9" cy="429.1" r="4.4"/><circle cx="418.3" cy="430.3" r="4.4"/><circle cx="419.5" cy="432.6" r="4.4"/><circle cx="420.7" cy="431.5" r="4.4"/><circle cx="421.9" cy="431" r="4.4"/><circle cx="423.1" cy="431.8" r="4.4"/><circle cx="424.3" cy="433.1" r="4.4"/><circle cx="425.5" cy="431.4" r="4.4"/><circle cx="426.7" cy="432.5" r="4.4"/><circle cx="428" cy="433.2" r="4.4"/><circle cx="429.2" cy="431.4" r="4.4"/><circle cx="431.6" cy="430.5" r="4.4"/><circle cx="432.8" cy="422.1" r="4.4"/><circle cx="434" cy="421.5" r="4.4"/><circle cx="435.2" cy="429" r="4.4"/><circle cx="436.4" cy="430.8" r="4.4"/><circle cx="437.6" cy="428" r="4.4"/><circle cx="441.2" cy="425.9" r="4.4"/><circle cx="442.4" cy="418.9" r="4.4"/><circle cx="443.6" cy="429.4" r="4.4"/><circle cx="444.8" cy="423.9" r="4.4"/><circle cx="446" cy="427.1" r="4.4"/><circle cx="447.2" cy="429.4" r="4.4"/><circle cx="449.6" cy="428.2" r="4.4"/><circle cx="450.8" cy="428.9" r="4.4"/><circle cx="452" cy="428.9" r="4.4"/><circle cx="453.2" cy="429" r="4.4"/><circle cx="454.4" cy="429.3" r="4.4"/><circle cx="455.6" cy="428.8" r="4.4"/><circle cx="456.8" cy="428.4" r="4.4"/><circle cx="459.2" cy="427.6" r="4.4"/><circle cx="460.4" cy="427.9" r="4.4"/><circle cx="462.9" cy="427.9" r="4.4"/><circle cx="464.1" cy="428.7" r="4.4"/><circle cx="465.3" cy="425.5" r="4.4"/><circle cx="466.5" cy="429" r="4.4"/><circle cx="467.7" cy="430.3" r="4.4"/><circle cx="468.9" cy="430" r="4.4"/><circle cx="471.3" cy="429.7" r="4.4"/><circle cx="472.5" cy="429.4" r="4.4"/><circle cx="473.7" cy="433.4" r="4.4"/><circle cx="476.1" cy="429.9" r="4.4"/><circle cx="477.3" cy="424.9" r="4.4"/><circle cx="478.5" cy="430.4" r="4.4"/><circle cx="479.7" cy="429.8" r="4.4"/><circle cx="480.9" cy="428.7" r="4.4"/><circle cx="482.1" cy="428.7" r="4.4"/><circle cx="483.3" cy="428.2" r="4.4"/><circle cx="484.5" cy="430.2" r="4.4"/><circle cx="485.7" cy="418.4" r="4.4"/><circle cx="486.9" cy="427.1" r="4.4"/><circle cx="488.1" cy="423.5" r="4.4"/><circle cx="490.5" cy="426.8" r="4.4"/><circle cx="495.4" cy="427.9" r="4.4"/><circle cx="499" cy="422.7" r="4.4"/><circle cx="500.2" cy="430.9" r="4.4"/><circle cx="501.4" cy="427.3" r="4.4"/><circle cx="502.6" cy="430.8" r="4.4"/><circle cx="503.8" cy="429.8" r="4.4"/><circle cx="506.2" cy="431" r="4.4"/><circle cx="508.6" cy="422.3" r="4.4"/><circle cx="509.8" cy="428.3" r="4.4"/><circle cx="511" cy="430.5" r="4.4"/><circle cx="514.6" cy="426.4" r="4.4"/><circle cx="515.8" cy="420.5" r="4.4"/><circle cx="517" cy="427.7" r="4.4"/><circle cx="518.2" cy="428.2" r="4.4"/><circle cx="519.4" cy="427.4" r="4.4"/><circle cx="521.8" cy="430.7" r="4.4"/><circle cx="524.2" cy="429.4" r="4.4"/><circle cx="525.4" cy="422.6" r="4.4"/><circle cx="526.6" cy="428.8" r="4.4"/><circle cx="527.8" cy="429.2" r="4.4"/><circle cx="531.5" cy="426.6" r="4.4"/><circle cx="535.1" cy="419.9" r="4.4"/><circle cx="536.3" cy="421.8" r="4.4"/><circle cx="537.5" cy="427.1" r="4.4"/><circle cx="538.7" cy="426.9" r="4.4"/><circle cx="539.9" cy="424" r="4.4"/><circle cx="542.3" cy="419.2" r="4.4"/><circle cx="543.5" cy="425.2" r="4.4"/><circle cx="545.9" cy="426.3" r="4.4"/><circle cx="547.1" cy="420.2" r="4.4"/><circle cx="549.5" cy="428.2" r="4.4"/><circle cx="551.9" cy="426.1" r="4.4"/><circle cx="554.3" cy="430.3" r="4.4"/><circle cx="556.7" cy="426.8" r="4.4"/><circle cx="557.9" cy="429.1" r="4.4"/><circle cx="559.1" cy="424" r="4.4"/><circle cx="564" cy="427" r="4.4"/><circle cx="565.2" cy="427.9" r="4.4"/><circle cx="566.4" cy="431.6" r="4.4"/><circle cx="567.6" cy="431.7" r="4.4"/><circle cx="568.8" cy="426.9" r="4.4"/><circle cx="573.6" cy="421.7" r="4.4"/><circle cx="574.8" cy="430.4" r="4.4"/><circle cx="576" cy="429.7" r="4.4"/><circle cx="577.2" cy="427.7" r="4.4"/><circle cx="578.4" cy="431.4" r="4.4"/><circle cx="579.6" cy="430" r="4.4"/><circle cx="584.4" cy="433.1" r="4.4"/><circle cx="585.6" cy="428.2" r="4.4"/><circle cx="586.8" cy="432.7" r="4.4"/><circle cx="588" cy="423.6" r="4.4"/><circle cx="589.2" cy="430.9" r="4.4"/><circle cx="590.4" cy="427.9" r="4.4"/><circle cx="591.6" cy="420.6" r="4.4"/><circle cx="592.8" cy="431.1" r="4.4"/><circle cx="596.5" cy="430.1" r="4.4"/><circle cx="597.7" cy="426.8" r="4.4"/><circle cx="598.9" cy="429.9" r="4.4"/><circle cx="600.1" cy="428" r="4.4"/><circle cx="601.3" cy="428.9" r="4.4"/><circle cx="602.5" cy="430.4" r="4.4"/><circle cx="604.9" cy="426.3" r="4.4"/><circle cx="606.1" cy="426.7" r="4.4"/><circle cx="607.3" cy="422.5" r="4.4"/><circle cx="608.5" cy="430.3" r="4.4"/><circle cx="609.7" cy="429.1" r="4.4"/><circle cx="614.5" cy="437.4" r="4.4"/><circle cx="615.7" cy="430.8" r="4.4"/><circle cx="616.9" cy="431.4" r="4.4"/><circle cx="618.1" cy="433.8" r="4.4"/><circle cx="619.3" cy="431.1" r="4.4"/><circle cx="621.7" cy="435.8" r="4.4"/><circle cx="624.1" cy="436.8" r="4.4"/><circle cx="625.3" cy="432.9" r="4.4"/><circle cx="626.5" cy="432.9" r="4.4"/><circle cx="628.9" cy="428.5" r="4.4"/><circle cx="631.4" cy="422.5" r="4.4"/><circle cx="632.6" cy="428.6" r="4.4"/><circle cx="635" cy="427.4" r="4.4"/><circle cx="636.2" cy="427" r="4.4"/><circle cx="637.4" cy="429.7" r="4.4"/><circle cx="638.6" cy="426.5" r="4.4"/><circle cx="639.8" cy="427.2" r="4.4"/><circle cx="641" cy="427.6" r="4.4"/><circle cx="642.2" cy="426" r="4.4"/><circle cx="644.6" cy="426.8" r="4.4"/><circle cx="647" cy="430.9" r="4.4"/><circle cx="648.2" cy="428.6" r="4.4"/><circle cx="649.4" cy="428.6" r="4.4"/><circle cx="650.6" cy="429.7" r="4.4"/><circle cx="651.8" cy="430.5" r="4.4"/><circle cx="653" cy="432.6" r="4.4"/><circle cx="654.2" cy="434" r="4.4"/><circle cx="655.4" cy="434" r="4.4"/><circle cx="656.6" cy="432.9" r="4.4"/><circle cx="657.8" cy="431.6" r="4.4"/><circle cx="659" cy="428.6" r="4.4"/><circle cx="660.2" cy="430" r="4.4"/><circle cx="662.6" cy="428.9" r="4.4"/><circle cx="665.1" cy="429.3" r="4.4"/><circle cx="667.5" cy="427.1" r="4.4"/><circle cx="669.9" cy="426.8" r="4.4"/><circle cx="671.1" cy="426.1" r="4.4"/><circle cx="672.3" cy="424.2" r="4.4"/><circle cx="677.1" cy="427.8" r="4.4"/><circle cx="678.3" cy="430.6" r="4.4"/><circle cx="679.5" cy="430.3" r="4.4"/><circle cx="680.7" cy="432.3" r="4.4"/><circle cx="683.1" cy="432.7" r="4.4"/><circle cx="684.3" cy="425.8" r="4.4"/><circle cx="685.5" cy="433.3" r="4.4"/><circle cx="686.7" cy="426.2" r="4.4"/><circle cx="687.9" cy="430.7" r="4.4"/><circle cx="689.1" cy="433.3" r="4.4"/><circle cx="690.3" cy="423.9" r="4.4"/><circle cx="692.7" cy="430.2" r="4.4"/><circle cx="695.1" cy="428.4" r="4.4"/><circle cx="697.6" cy="433.6" r="4.4"/><circle cx="700" cy="427.3" r="4.4"/><circle cx="701.2" cy="429.2" r="4.4"/><circle cx="702.4" cy="434.1" r="4.4"/><circle cx="703.6" cy="435.2" r="4.4"/><circle cx="704.8" cy="433.6" r="4.4"/><circle cx="706" cy="437.7" r="4.4"/><circle cx="708.4" cy="432.7" r="4.4"/><circle cx="709.6" cy="432.4" r="4.4"/><circle cx="710.8" cy="429.3" r="4.4"/><circle cx="713.2" cy="434.8" r="4.4"/><circle cx="714.4" cy="432.3" r="4.4"/><circle cx="716.8" cy="426.9" r="4.4"/><circle cx="718" cy="430.3" r="4.4"/><circle cx="720.4" cy="426.8" r="4.4"/><circle cx="721.6" cy="428" r="4.4"/><circle cx="722.8" cy="432.9" r="4.4"/><circle cx="724" cy="430.8" r="4.4"/><circle cx="725.2" cy="428.8" r="4.4"/><circle cx="728.8" cy="424.7" r="4.4"/><circle cx="731.3" cy="430.9" r="4.4"/><circle cx="732.5" cy="432.5" r="4.4"/><circle cx="733.7" cy="426.2" r="4.4"/><circle cx="734.9" cy="430.1" r="4.4"/><circle cx="736.1" cy="432.8" r="4.4"/><circle cx="737.3" cy="431" r="4.4"/><circle cx="738.5" cy="424.1" r="4.4"/><circle cx="739.7" cy="428.9" r="4.4"/><circle cx="740.9" cy="432.8" r="4.4"/><circle cx="742.1" cy="430" r="4.4"/><circle cx="746.9" cy="434" r="4.4"/><circle cx="748.1" cy="432.4" r="4.4"/><circle cx="749.3" cy="429.7" r="4.4"/><circle cx="751.7" cy="422.5" r="4.4"/><circle cx="752.9" cy="429.2" r="4.4"/><circle cx="755.3" cy="425.9" r="4.4"/><circle cx="756.5" cy="431.2" r="4.4"/><circle cx="758.9" cy="422.4" r="4.4"/><circle cx="760.1" cy="420.6" r="4.4"/><circle cx="761.3" cy="424.2" r="4.4"/><circle cx="763.7" cy="429.1" r="4.4"/><circle cx="765" cy="423.1" r="4.4"/><circle cx="766.2" cy="427.8" r="4.4"/><circle cx="767.4" cy="428" r="4.4"/><circle cx="768.6" cy="430.5" r="4.4"/><circle cx="769.8" cy="429.7" r="4.4"/><circle cx="772.2" cy="429.2" r="4.4"/><circle cx="773.4" cy="422.2" r="4.4"/><circle cx="774.6" cy="421" r="4.4"/><circle cx="775.8" cy="428.8" r="4.4"/><circle cx="777" cy="425.3" r="4.4"/><circle cx="778.2" cy="424.4" r="4.4"/><circle cx="779.4" cy="427.2" r="4.4"/><circle cx="780.6" cy="425.8" r="4.4"/><circle cx="781.8" cy="428.5" r="4.4"/><circle cx="783" cy="417.4" r="4.4"/><circle cx="784.2" cy="425.3" r="4.4"/><circle cx="785.4" cy="424.5" r="4.4"/><circle cx="786.6" cy="420" r="4.4"/><circle cx="790.2" cy="419.1" r="4.4"/><circle cx="792.6" cy="424" r="4.4"/><circle cx="793.8" cy="420.4" r="4.4"/><circle cx="795" cy="423.7" r="4.4"/><circle cx="796.2" cy="426.9" r="4.4"/><circle cx="797.4" cy="427.6" r="4.4"/><circle cx="798.7" cy="428.7" r="4.4"/><circle cx="799.9" cy="428.8" r="4.4"/><circle cx="803.5" cy="428.8" r="4.4"/><circle cx="804.7" cy="426" r="4.4"/><circle cx="805.9" cy="426.5" r="4.4"/><circle cx="808.3" cy="425.3" r="4.4"/><circle cx="810.7" cy="429.8" r="4.4"/><circle cx="811.9" cy="426.5" r="4.4"/><circle cx="813.1" cy="421.4" r="4.4"/><circle cx="814.3" cy="425.5" r="4.4"/><circle cx="816.7" cy="427.8" r="4.4"/><circle cx="817.9" cy="430.7" r="4.4"/><circle cx="820.3" cy="427.7" r="4.4"/><circle cx="821.5" cy="429.1" r="4.4"/><circle cx="822.7" cy="429.9" r="4.4"/><circle cx="823.9" cy="430.8" r="4.4"/><circle cx="826.3" cy="431.4" r="4.4"/><circle cx="828.7" cy="430.8" r="4.4"/><circle cx="829.9" cy="431.2" r="4.4"/><circle cx="831.1" cy="422.9" r="4.4"/><circle cx="833.6" cy="430.1" r="4.4"/><circle cx="834.8" cy="430.9" r="4.4"/><circle cx="837.2" cy="431.6" r="4.4"/><circle cx="838.4" cy="421.7" r="4.4"/><circle cx="839.6" cy="431.4" r="4.4"/><circle cx="840.8" cy="428.2" r="4.4"/><circle cx="842" cy="426.7" r="4.4"/><circle cx="843.2" cy="431.5" r="4.4"/><circle cx="845.6" cy="432.5" r="4.4"/><circle cx="846.8" cy="430.8" r="4.4"/><circle cx="848" cy="432.5" r="4.4"/><circle cx="849.2" cy="424.6" r="4.4"/><circle cx="850.4" cy="424.5" r="4.4"/><circle cx="851.6" cy="428.7" r="4.4"/><circle cx="852.8" cy="422.9" r="4.4"/><circle cx="860" cy="433.3" r="4.4"/><circle cx="861.2" cy="432.3" r="4.4"/><circle cx="862.4" cy="430.8" r="4.4"/><circle cx="863.6" cy="422.1" r="4.4"/><circle cx="866.1" cy="424.7" r="4.4"/><circle cx="867.3" cy="433.8" r="4.4"/><circle cx="868.5" cy="429.5" r="4.4"/><circle cx="869.7" cy="431.9" r="4.4"/><circle cx="870.9" cy="430.9" r="4.4"/><circle cx="872.1" cy="432.8" r="4.4"/><circle cx="874.5" cy="433.8" r="4.4"/><circle cx="875.7" cy="438.2" r="4.4"/><circle cx="876.9" cy="434.3" r="4.4"/><circle cx="878.1" cy="434.7" r="4.4"/><circle cx="880.5" cy="433.7" r="4.4"/><circle cx="881.7" cy="434.4" r="4.4"/><circle cx="882.9" cy="435.5" r="4.4"/><circle cx="887.7" cy="431.5" r="4.4"/><circle cx="888.9" cy="431.1" r="4.4"/><circle cx="890.1" cy="431.4" r="4.4"/><circle cx="891.3" cy="432" r="4.4"/><circle cx="892.5" cy="427.9" r="4.4"/><circle cx="893.7" cy="422.1" r="4.4"/><circle cx="894.9" cy="425.6" r="4.4"/><circle cx="897.3" cy="429.6" r="4.4"/><circle cx="898.5" cy="429.7" r="4.4"/><circle cx="899.8" cy="429.6" r="4.4"/><circle cx="901" cy="429.3" r="4.4"/><circle cx="903.4" cy="426.4" r="4.4"/><circle cx="905.8" cy="421" r="4.4"/><circle cx="907" cy="428.7" r="4.4"/><circle cx="908.2" cy="430" r="4.4"/><circle cx="909.4" cy="427.9" r="4.4"/><circle cx="911.8" cy="423" r="4.4"/><circle cx="913" cy="430.2" r="4.4"/><circle cx="914.2" cy="421.6" r="4.4"/><circle cx="915.4" cy="428.3" r="4.4"/><circle cx="917.8" cy="427.9" r="4.4"/><circle cx="919" cy="428.8" r="4.4"/><circle cx="920.2" cy="428.1" r="4.4"/><circle cx="921.4" cy="426.1" r="4.4"/><circle cx="922.6" cy="429.5" r="4.4"/><circle cx="925" cy="427.3" r="4.4"/><circle cx="926.2" cy="422.9" r="4.4"/><circle cx="927.4" cy="426.3" r="4.4"/><circle cx="929.8" cy="426.3" r="4.4"/><circle cx="931" cy="419.4" r="4.4"/><circle cx="932.2" cy="421.4" r="4.4"/><circle cx="935.9" cy="419.4" r="4.4"/><circle cx="937.1" cy="424.6" r="4.4"/><circle cx="938.3" cy="424.3" r="4.4"/><circle cx="940.7" cy="419.8" r="4.4"/><circle cx="941.9" cy="422.6" r="4.4"/><circle cx="943.1" cy="422.2" r="4.4"/><circle cx="944.3" cy="422" r="4.4"/><circle cx="945.5" cy="418.3" r="4.4"/><circle cx="946.7" cy="417.2" r="4.4"/><circle cx="949.1" cy="425.8" r="4.4"/><circle cx="951.5" cy="421.3" r="4.4"/><circle cx="952.7" cy="417.1" r="4.4"/><circle cx="955.1" cy="421.4" r="4.4"/><circle cx="956.3" cy="425.4" r="4.4"/><circle cx="957.5" cy="424.5" r="4.4"/><circle cx="958.7" cy="425.1" r="4.4"/><circle cx="959.9" cy="425.2" r="4.4"/><circle cx="961.1" cy="418.2" r="4.4"/><circle cx="962.3" cy="424.4" r="4.4"/><circle cx="963.5" cy="426.4" r="4.4"/><circle cx="964.7" cy="426.9" r="4.4"/><circle cx="965.9" cy="424.6" r="4.4"/><circle cx="967.2" cy="419.3" r="4.4"/><circle cx="968.4" cy="425.3" r="4.4"/><circle cx="969.6" cy="425.3" r="4.4"/><circle cx="970.8" cy="424.6" r="4.4"/><circle cx="973.2" cy="429.4" r="4.4"/><circle cx="974.4" cy="427.4" r="4.4"/><circle cx="978" cy="427" r="4.4"/><circle cx="980.4" cy="431.4" r="4.4"/><circle cx="981.6" cy="433" r="4.4"/><circle cx="982.8" cy="431.5" r="4.4"/><circle cx="986.4" cy="430.1" r="4.4"/><circle cx="987.6" cy="430.9" r="4.4"/><circle cx="988.8" cy="428.2" r="4.4"/><circle cx="990" cy="430.4" r="4.4"/><circle cx="991.2" cy="431.4" r="4.4"/><circle cx="992.4" cy="428.7" r="4.4"/><circle cx="993.6" cy="431" r="4.4"/><circle cx="994.8" cy="428.7" r="4.4"/><circle cx="996" cy="433.2" r="4.4"/><circle cx="997.2" cy="433.3" r="4.4"/><circle cx="998.4" cy="430.2" r="4.4"/><circle cx="999.6" cy="428.2" r="4.4"/><circle cx="1000.9" cy="425" r="4.4"/><circle cx="1002.1" cy="434.3" r="4.4"/><circle cx="1003.3" cy="432.4" r="4.4"/><circle cx="1005.7" cy="432.5" r="4.4"/><circle cx="1006.9" cy="430" r="4.4"/><circle cx="1009.3" cy="428.8" r="4.4"/><circle cx="1011.7" cy="427.8" r="4.4"/><circle cx="1012.9" cy="419.1" r="4.4"/><circle cx="1014.1" cy="428.5" r="4.4"/><circle cx="1015.3" cy="426.9" r="4.4"/><circle cx="1016.5" cy="427.3" r="4.4"/><circle cx="1017.7" cy="417" r="4.4"/><circle cx="1020.1" cy="427.4" r="4.4"/><circle cx="1023.7" cy="426.2" r="4.4"/><circle cx="1024.9" cy="428.6" r="4.4"/><circle cx="1027.3" cy="428.7" r="4.4"/><circle cx="1028.5" cy="430" r="4.4"/><circle cx="1029.7" cy="425.2" r="4.4"/><circle cx="1030.9" cy="419.5" r="4.4"/><circle cx="1032.1" cy="428.5" r="4.4"/><circle cx="1033.3" cy="425.6" r="4.4"/><circle cx="1034.6" cy="426.2" r="4.4"/><circle cx="1037" cy="422.7" r="4.4"/><circle cx="1039.4" cy="431.5" r="4.4"/><circle cx="1040.6" cy="429.4" r="4.4"/><circle cx="1041.8" cy="428.9" r="4.4"/><circle cx="1043" cy="427.4" r="4.4"/><circle cx="1045.4" cy="427.8" r="4.4"/><circle cx="1046.6" cy="423" r="4.4"/><circle cx="1047.8" cy="421.7" r="4.4"/><circle cx="1049" cy="426.7" r="4.4"/><circle cx="1050.2" cy="420.2" r="4.4"/><circle cx="1051.4" cy="429.4" r="4.4"/><circle cx="1052.6" cy="425.2" r="4.4"/><circle cx="1053.8" cy="427.6" r="4.4"/><circle cx="1055" cy="421.4" r="4.4"/><circle cx="1058.6" cy="425.7" r="4.4"/><circle cx="1059.8" cy="423.4" r="4.4"/><circle cx="1061" cy="426.3" r="4.4"/><circle cx="1063.4" cy="426.5" r="4.4"/><circle cx="1065.8" cy="430" r="4.4"/><circle cx="1068.3" cy="427.5" r="4.4"/><circle cx="1069.5" cy="421.5" r="4.4"/><circle cx="1070.7" cy="428.4" r="4.4"/><circle cx="1073.1" cy="425" r="4.4"/><circle cx="1074.3" cy="417.2" r="4.4"/><circle cx="1075.5" cy="423.4" r="4.4"/><circle cx="1077.9" cy="417.7" r="4.4"/><circle cx="1079.1" cy="426.3" r="4.4"/><circle cx="1080.3" cy="425.3" r="4.4"/><circle cx="1081.5" cy="423" r="4.4"/><circle cx="1082.7" cy="424.5" r="4.4"/><circle cx="1083.9" cy="423.8" r="4.4"/><circle cx="1085.1" cy="426.4" r="4.4"/><circle cx="1086.3" cy="425.6" r="4.4"/><circle cx="1087.5" cy="426.8" r="4.4"/><circle cx="1089.9" cy="425.2" r="4.4"/><circle cx="1091.1" cy="429.4" r="4.4"/><circle cx="1092.3" cy="422.3" r="4.4"/><circle cx="1093.5" cy="432.9" r="4.4"/><circle cx="1095.9" cy="432" r="4.4"/><circle cx="1099.5" cy="427.8" r="4.4"/><circle cx="1100.7" cy="425.5" r="4.4"/><circle cx="1102" cy="425.9" r="4.4"/><circle cx="1103.2" cy="433" r="4.4"/><circle cx="1104.4" cy="431.9" r="4.4"/><circle cx="1105.6" cy="434.6" r="4.4"/><circle cx="1106.8" cy="425.6" r="4.4"/><circle cx="1108" cy="425" r="4.4"/><circle cx="1109.2" cy="424.5" r="4.4"/><circle cx="1114" cy="427.8" r="4.4"/><circle cx="1118.8" cy="432.4" r="4.4"/><circle cx="1120" cy="434.5" r="4.4"/><circle cx="1121.2" cy="430.8" r="4.4"/><circle cx="1122.4" cy="429.1" r="4.4"/><circle cx="1123.6" cy="430.5" r="4.4"/><circle cx="1124.8" cy="429.3" r="4.4"/><circle cx="1127.2" cy="430.3" r="4.4"/><circle cx="1128.4" cy="432.2" r="4.4"/><circle cx="1132" cy="423.3" r="4.4"/><circle cx="1133.2" cy="431.7" r="4.4"/><circle cx="1134.4" cy="425.9" r="4.4"/><circle cx="1135.7" cy="432.8" r="4.4"/><circle cx="1136.9" cy="431.6" r="4.4"/><circle cx="1138.1" cy="433.7" r="4.4"/><circle cx="1139.3" cy="429.4" r="4.4"/><circle cx="1141.7" cy="435.3" r="4.4"/><circle cx="1142.9" cy="432.8" r="4.4"/><circle cx="1144.1" cy="435.8" r="4.4"/><circle cx="1145.3" cy="433.8" r="4.4"/><circle cx="1146.5" cy="431.1" r="4.4"/><circle cx="1147.7" cy="429.9" r="4.4"/><circle cx="1150.1" cy="428.2" r="4.4"/><circle cx="1152.5" cy="428.6" r="4.4"/><circle cx="1153.7" cy="427.2" r="4.4"/><circle cx="1154.9" cy="421.9" r="4.4"/><circle cx="1158.5" cy="428.2" r="4.4"/><circle cx="1159.7" cy="427.4" r="4.4"/><circle cx="1160.9" cy="428.7" r="4.4"/><circle cx="1162.1" cy="429.6" r="4.4"/><circle cx="1163.3" cy="430.8" r="4.4"/><circle cx="1166.9" cy="426.8" r="4.4"/><circle cx="1169.4" cy="427.1" r="4.4"/><circle cx="1170.6" cy="431.3" r="4.4"/><circle cx="1173" cy="428.6" r="4.4"/><circle cx="1175.4" cy="423.6" r="4.4"/><circle cx="1176.6" cy="430.4" r="4.4"/><circle cx="1177.8" cy="426.2" r="4.4"/><circle cx="1180.2" cy="428.5" r="4.4"/><circle cx="1181.4" cy="428.2" r="4.4"/><circle cx="1182.6" cy="430.3" r="4.4"/><circle cx="1183.8" cy="428.3" r="4.4"/><circle cx="1185" cy="429" r="4.4"/><circle cx="1186.2" cy="428.3" r="4.4"/><circle cx="1187.4" cy="427.1" r="4.4"/><circle cx="1188.6" cy="421" r="4.4"/><circle cx="1189.8" cy="428.9" r="4.4"/><circle cx="1191" cy="422.5" r="4.4"/><circle cx="1192.2" cy="431.9" r="4.4"/><circle cx="1193.4" cy="433.7" r="4.4"/><circle cx="1194.6" cy="433.9" r="4.4"/><circle cx="1197" cy="432" r="4.4"/><circle cx="1199.4" cy="421.8" r="4.4"/><circle cx="1200.6" cy="429.1" r="4.4"/><circle cx="1201.8" cy="431.7" r="4.4"/><circle cx="1203.1" cy="428.9" r="4.4"/><circle cx="1207.9" cy="432.4" r="4.4"/><circle cx="1210.3" cy="430.7" r="4.4"/><circle cx="1211.5" cy="428.8" r="4.4"/><circle cx="1215.1" cy="427.4" r="4.4"/><circle cx="1216.3" cy="425.6" r="4.4"/><circle cx="1218.7" cy="426.6" r="4.4"/><circle cx="1219.9" cy="428.4" r="4.4"/><circle cx="1221.1" cy="428.9" r="4.4"/><circle cx="1222.3" cy="427.3" r="4.4"/><circle cx="1223.5" cy="423.8" r="4.4"/><circle cx="1224.7" cy="429.5" r="4.4"/><circle cx="1225.9" cy="430.4" r="4.4"/><circle cx="1227.1" cy="429.8" r="4.4"/><circle cx="1228.3" cy="427.4" r="4.4"/><circle cx="1229.5" cy="425.1" r="4.4"/><circle cx="1230.7" cy="420.8" r="4.4"/><circle cx="1231.9" cy="422.2" r="4.4"/><circle cx="1233.1" cy="427.7" r="4.4"/><circle cx="1235.5" cy="428.6" r="4.4"/><circle cx="1236.8" cy="426.2" r="4.4"/><circle cx="1238" cy="432.9" r="4.4"/><circle cx="1240.4" cy="431.2" r="4.4"/><circle cx="1241.6" cy="431.4" r="4.4"/><circle cx="1242.8" cy="423.5" r="4.4"/><circle cx="1245.2" cy="431.6" r="4.4"/><circle cx="1247.6" cy="427.5" r="4.4"/><circle cx="1250" cy="426.4" r="4.4"/><circle cx="1251.2" cy="430.4" r="4.4"/><circle cx="1252.4" cy="431.9" r="4.4"/><circle cx="1253.6" cy="432" r="4.4"/><circle cx="1256" cy="428.4" r="4.4"/><circle cx="1257.2" cy="429.8" r="4.4"/><circle cx="1259.6" cy="429.4" r="4.4"/><circle cx="1263.2" cy="432.1" r="4.4"/><circle cx="1265.6" cy="431.8" r="4.4"/><circle cx="1266.8" cy="429.1" r="4.4"/><circle cx="1268" cy="428.3" r="4.4"/><circle cx="1270.5" cy="431.6" r="4.4"/><circle cx="1271.7" cy="432.7" r="4.4"/><circle cx="1272.9" cy="431.4" r="4.4"/><circle cx="1274.1" cy="431.6" r="4.4"/><circle cx="1278.9" cy="429.8" r="4.4"/><circle cx="1288.5" cy="430.6" r="4.4"/><circle cx="1289.7" cy="432.8" r="4.4"/><circle cx="1290.9" cy="430.8" r="4.4"/><circle cx="179.7" cy="371.9" r="4.4"/><circle cx="185.2" cy="369.7" r="4.4"/><circle cx="280.6" cy="369.1" r="4.4"/><circle cx="304.7" cy="352.5" r="4.4"/><circle cx="308.3" cy="369.1" r="4.4"/><circle cx="315.2" cy="366.4" r="4.4"/><circle cx="351.1" cy="367.8" r="4.4"/><circle cx="367.7" cy="365" r="4.4"/><circle cx="382.9" cy="366.4" r="4.4"/><circle cx="422.2" cy="369.1" r="4.4"/><circle cx="431.3" cy="372.5" r="4.4"/><circle cx="443.8" cy="366.4" r="4.4"/><circle cx="452.1" cy="369.1" r="4.4"/><circle cx="468.1" cy="373.3" r="4.4"/><circle cx="474.2" cy="362.2" r="4.4"/><circle cx="482.5" cy="369.1" r="4.4"/><circle cx="248.8" cy="369.1" r="4.4"/><circle cx="230.8" cy="370.5" r="4.4"/><circle cx="185.2" cy="403.2" r="4.4"/><circle cx="197.1" cy="394.9" r="4.4"/><circle cx="212.9" cy="403.7" r="4.4"/><circle cx="215.6" cy="398.2" r="4.4"/><circle cx="219.8" cy="394.9" r="4.4"/><circle cx="222.5" cy="405.1" r="4.4"/><circle cx="232.2" cy="404.5" r="4.4"/><circle cx="246.9" cy="392.6" r="4.4"/><circle cx="253" cy="406.5" r="4.4"/><circle cx="256.3" cy="384.9" r="4.4"/><circle cx="259.9" cy="400.1" r="4.4"/><circle cx="264" cy="399.6" r="4.4"/><circle cx="270.9" cy="393.5" r="4.4"/><circle cx="282.8" cy="403.2" r="4.4"/><circle cx="285.6" cy="395.4" r="4.4"/><circle cx="292.5" cy="376" r="4.4"/><circle cx="295.3" cy="408.7" r="4.4"/><circle cx="299.4" cy="384.9" r="4.4"/><circle cx="302.2" cy="400.9" r="4.4"/><circle cx="306.1" cy="397.3" r="4.4"/><circle cx="301.4" cy="406.5" r="4.4"/><circle cx="227.2" cy="430" r="4.4"/><circle cx="201" cy="444.4" r="4.4"/><circle cx="238.3" cy="444.4" r="4.4"/><circle cx="261.3" cy="444.4" r="4.4"/><circle cx="266.8" cy="444.4" r="4.4"/><circle cx="273.7" cy="444.4" r="4.4"/><circle cx="290.9" cy="444.4" r="4.4"/><circle cx="311" cy="416.2" r="4.4"/><circle cx="324.9" cy="413.4" r="4.4"/><circle cx="326.2" cy="418.9" r="4.4"/><circle cx="357.5" cy="410.6" r="4.4"/><circle cx="358.9" cy="420.8" r="4.4"/><circle cx="378" cy="411.2" r="4.4"/><circle cx="426.6" cy="412" r="4.4"/><circle cx="434.7" cy="411.4" r="4.4"/><circle cx="445.2" cy="417.5" r="4.4"/><circle cx="463.1" cy="411.2" r="4.4"/><circle cx="486.6" cy="409.2" r="4.4"/><circle cx="488" cy="418.9" r="4.4"/><circle cx="324" cy="441.6" r="4.4"/><circle cx="456.8" cy="437.4" r="4.4"/><circle cx="484" cy="363.6" r="4.4"/><circle cx="483" cy="369" r="4.4"/><circle cx="511.8" cy="369" r="4.4"/><circle cx="514.6" cy="366.4" r="4.4"/><circle cx="532.5" cy="361.4" r="4.4"/><circle cx="538" cy="368.6" r="4.4"/><circle cx="573" cy="367" r="4.4"/><circle cx="607.8" cy="371" r="4.4"/><circle cx="615.5" cy="371.3" r="4.4"/><circle cx="643" cy="368.3" r="4.4"/><circle cx="676" cy="369.7" r="4.4"/><circle cx="684" cy="369.7" r="4.4"/><circle cx="702.6" cy="369.7" r="4.4"/><circle cx="706" cy="367.8" r="4.4"/><circle cx="733" cy="376" r="4.4"/><circle cx="740" cy="362" r="4.4"/><circle cx="741.3" cy="366.4" r="4.4"/><circle cx="753.8" cy="356.7" r="4.4"/><circle cx="764.3" cy="370.5" r="4.4"/><circle cx="776.5" cy="366.4" r="4.4"/><circle cx="792.5" cy="369.7" r="4.4"/><circle cx="502" cy="347.6" r="4.4"/><circle cx="518.7" cy="349.2" r="4.4"/><circle cx="563" cy="348.4" r="4.4"/><circle cx="717.8" cy="347" r="4.4"/><circle cx="732" cy="344" r="4.4"/><circle cx="767.6" cy="347" r="4.4"/><circle cx="486.1" cy="409.2" r="4.4"/><circle cx="498" cy="413.4" r="4.4"/><circle cx="503.5" cy="416.2" r="4.4"/><circle cx="516" cy="416.2" r="4.4"/><circle cx="539.5" cy="409.2" r="4.4"/><circle cx="547.8" cy="412.8" r="4.4"/><circle cx="553.3" cy="412" r="4.4"/><circle cx="560.2" cy="407.3" r="4.4"/><circle cx="567.1" cy="408.7" r="4.4"/><circle cx="565.2" cy="416.2" r="4.4"/><circle cx="586.5" cy="411.2" r="4.4"/><circle cx="605.8" cy="410.6" r="4.4"/><circle cx="610" cy="411.2" r="4.4"/><circle cx="665.8" cy="410.6" r="4.4"/><circle cx="670.3" cy="410.6" r="4.4"/><circle cx="701.2" cy="411.2" r="4.4"/><circle cx="709.5" cy="412" r="4.4"/><circle cx="719.2" cy="411.2" r="4.4"/><circle cx="726.1" cy="413.4" r="4.4"/><circle cx="749.6" cy="409.2" r="4.4"/><circle cx="756.5" cy="411.2" r="4.4"/><circle cx="766.2" cy="416.2" r="4.4"/><circle cx="779.2" cy="411.2" r="4.4"/><circle cx="788.3" cy="416.2" r="4.4"/><circle cx="745.5" cy="416.2" r="4.4"/><circle cx="645.4" cy="443" r="4.4"/><circle cx="503.5" cy="439.7" r="4.4"/><circle cx="529.8" cy="441.6" r="4.4"/><circle cx="533.9" cy="441.6" r="4.4"/><circle cx="709.5" cy="441.6" r="4.4"/><circle cx="715" cy="443.2" r="4.4"/><circle cx="728.9" cy="443.2" r="4.4"/><circle cx="722" cy="436.9" r="4.4"/><circle cx="806.9" cy="361.6" r="4.4"/><circle cx="813.8" cy="374.9" r="4.4"/><circle cx="845.6" cy="369" r="4.4"/><circle cx="855.3" cy="369" r="4.4"/><circle cx="866.4" cy="370.7" r="4.4"/><circle cx="875.2" cy="369" r="4.4"/><circle cx="881.6" cy="361.6" r="4.4"/><circle cx="905.1" cy="369.9" r="4.4"/><circle cx="912.8" cy="362.4" r="4.4"/><circle cx="939.1" cy="369" r="4.4"/><circle cx="954.9" cy="368" r="4.4"/><circle cx="924.4" cy="346.4" r="4.4"/><circle cx="935.5" cy="347.8" r="4.4"/><circle cx="950.7" cy="346.4" r="4.4"/><circle cx="964.5" cy="348.6" r="4.4"/><circle cx="990.8" cy="346.4" r="4.4"/><circle cx="1054.4" cy="369" r="4.4"/><circle cx="1060" cy="364.3" r="4.4"/><circle cx="1062.7" cy="369" r="4.4"/><circle cx="1102.8" cy="347.8" r="4.4"/><circle cx="1115.3" cy="347.8" r="4.4"/><circle cx="1116.6" cy="372.6" r="4.4"/><circle cx="1097.3" cy="339.5" r="4.4"/><circle cx="1111.1" cy="338" r="4.4"/><circle cx="836" cy="416.3" r="4.4"/><circle cx="849.8" cy="410" r="4.4"/><circle cx="859.5" cy="412.7" r="4.4"/><circle cx="861.4" cy="411.4" r="4.4"/><circle cx="880.2" cy="410.5" r="4.4"/><circle cx="909.2" cy="410.5" r="4.4"/><circle cx="921.7" cy="416" r="4.4"/><circle cx="933.3" cy="410" r="4.4"/><circle cx="950.2" cy="416.9" r="4.4"/><circle cx="965.9" cy="416.9" r="4.4"/><circle cx="984.7" cy="400.6" r="4.4"/><circle cx="987.5" cy="414" r="4.4"/><circle cx="980.3" cy="421" r="4.4"/><circle cx="1026.2" cy="410.5" r="4.4"/><circle cx="1024" cy="415.5" r="4.4"/><circle cx="1015.7" cy="421.6" r="4.4"/><circle cx="1043.9" cy="410.5" r="4.4"/><circle cx="1057.2" cy="416" r="4.4"/><circle cx="1083.5" cy="422.4" r="4.4"/><circle cx="1099.2" cy="422.4" r="4.4"/><circle cx="1118" cy="415.5" r="4.4"/><circle cx="829.6" cy="442.6" r="4.4"/><circle cx="851.2" cy="440.4" r="4.4"/><circle cx="970.6" cy="441" r="4.4"/><circle cx="1064.1" cy="443.7" r="4.4"/><circle cx="1048.9" cy="440.4" r="4.4"/><circle cx="1116.6" cy="373.5" r="4.4"/><circle cx="1144.2" cy="374.5" r="4.4"/><circle cx="1155.8" cy="366.2" r="4.4"/><circle cx="1176.4" cy="368.9" r="4.4"/><circle cx="1206.3" cy="368.9" r="4.4"/><circle cx="1218.5" cy="371.2" r="4.4"/><circle cx="1230.5" cy="357.9" r="4.4"/><circle cx="1240.1" cy="365.6" r="4.4"/><circle cx="1169.8" cy="339.7" r="4.4"/><circle cx="1170.4" cy="347" r="4.4"/><circle cx="1115" cy="348" r="4.4"/><circle cx="1191.3" cy="348" r="4.4"/><circle cx="1204.6" cy="348" r="4.4"/><circle cx="1111.7" cy="338" r="4.4"/><circle cx="1299.2" cy="366.2" r="4.4"/><circle cx="1303.2" cy="375.5" r="4.4"/><circle cx="1308.2" cy="340.7" r="4.4"/><circle cx="1310.8" cy="361.2" r="4.4"/><circle cx="1312.5" cy="367.9" r="4.4"/><circle cx="1315.8" cy="374.5" r="4.4"/><circle cx="1319.8" cy="377.8" r="4.4"/><circle cx="1322.5" cy="371.2" r="4.4"/><circle cx="1316.5" cy="334.7" r="4.4"/><circle cx="1315.1" cy="321.4" r="4.4"/><circle cx="1325.8" cy="334.7" r="4.4"/><circle cx="1327.4" cy="360.6" r="4.4"/><circle cx="1332.4" cy="339.7" r="4.4"/><circle cx="1339" cy="365.6" r="4.4"/><circle cx="1345" cy="356.3" r="4.4"/><circle cx="1347.3" cy="339.7" r="4.4"/><circle cx="1349" cy="331.4" r="4.4"/><circle cx="1346.3" cy="323" r="4.4"/><circle cx="1351.3" cy="367.2" r="4.4"/><circle cx="1355.6" cy="351.3" r="4.4"/><circle cx="1357.3" cy="304.8" r="4.4"/><circle cx="1359.6" cy="378.8" r="4.4"/><circle cx="1364.9" cy="366.9" r="4.4"/><circle cx="1367.3" cy="339.7" r="4.4"/><circle cx="1370.6" cy="367.9" r="4.4"/><circle cx="1373.9" cy="334.7" r="4.4"/><circle cx="1372.2" cy="372.9" r="4.4"/><circle cx="1377.2" cy="367.9" r="4.4"/><circle cx="1380.5" cy="377.8" r="4.4"/><circle cx="1383.9" cy="351.3" r="4.4"/><circle cx="1384.9" cy="326.4" r="4.4"/><circle cx="1385.5" cy="362.9" r="4.4"/><circle cx="1390.5" cy="365.6" r="4.4"/><circle cx="1397.1" cy="367.9" r="4.4"/><circle cx="1397.1" cy="397.1" r="4.4"/><circle cx="1399.5" cy="329.7" r="4.4"/><circle cx="1402.1" cy="333" r="4.4"/><circle cx="1405.4" cy="356.9" r="4.4"/><circle cx="1413.7" cy="361.2" r="4.4"/><circle cx="1415.4" cy="373.9" r="4.4"/><circle cx="1423.7" cy="339.7" r="4.4"/><circle cx="1425.4" cy="363.6" r="4.4"/><circle cx="1428.7" cy="343" r="4.4"/><circle cx="1300.2" cy="411.7" r="4.4"/><circle cx="1329.1" cy="412.7" r="4.4"/><circle cx="1370.6" cy="412" r="4.4"/><circle cx="1418.7" cy="411.7" r="4.4"/><circle cx="1310.2" cy="422.7" r="4.4"/><circle cx="1360.6" cy="416" r="4.4"/><circle cx="1378.9" cy="416" r="4.4"/><circle cx="1390.5" cy="415.4" r="4.4"/><circle cx="1120" cy="414.4" r="4.4"/><circle cx="1126.6" cy="412" r="4.4"/><circle cx="1138.2" cy="412" r="4.4"/><circle cx="1146.5" cy="412" r="4.4"/><circle cx="1156.5" cy="412.7" r="4.4"/><circle cx="1163.1" cy="416" r="4.4"/><circle cx="1171.4" cy="412" r="4.4"/><circle cx="1178.7" cy="416.7" r="4.4"/><circle cx="1192" cy="412" r="4.4"/><circle cx="1213.9" cy="422.7" r="4.4"/><circle cx="1235.5" cy="411" r="4.4"/><circle cx="1232.8" cy="416" r="4.4"/><circle cx="1242.8" cy="417.7" r="4.4"/><circle cx="1262.7" cy="421" r="4.4"/><circle cx="1271.7" cy="420" r="4.4"/><circle cx="1224.5" cy="441.9" r="4.4"/><circle cx="1189.7" cy="440.9" r="4.4"/><circle cx="1454.1" cy="323.1" r="4.4"/><circle cx="1470.6" cy="318.1" r="4.4"/><circle cx="1483.5" cy="316.4" r="4.4"/><circle cx="1487.2" cy="303.2" r="4.4"/><circle cx="1493.5" cy="305.7" r="4.4"/><circle cx="1504.7" cy="307" r="4.4"/><circle cx="1512.2" cy="299.4" r="4.4"/><circle cx="1514.6" cy="303.2" r="4.4"/><circle cx="1522.1" cy="319.4" r="4.4"/><circle cx="1524.6" cy="306.4" r="4.4"/><circle cx="1529.6" cy="302" r="4.4"/><circle cx="1532.1" cy="305.7" r="4.4"/><circle cx="1535.8" cy="297" r="4.4"/><circle cx="1540.3" cy="324.3" r="4.4"/><circle cx="1545.8" cy="294.5" r="4.4"/><circle cx="1549.5" cy="299.4" r="4.4"/><circle cx="1554.5" cy="297" r="4.4"/><circle cx="1556.5" cy="302.4" r="4.4"/><circle cx="1558.7" cy="313.9" r="4.4"/><circle cx="1564.5" cy="307" r="4.4"/><circle cx="1570.7" cy="302" r="4.4"/><circle cx="1575.7" cy="305.7" r="4.4"/><circle cx="1575.7" cy="313.1" r="4.4"/><circle cx="1580.6" cy="302.4" r="4.4"/><circle cx="1580.6" cy="313.1" r="4.4"/><circle cx="1586.9" cy="292" r="4.4"/><circle cx="1588.1" cy="309.4" r="4.4"/><circle cx="1591.9" cy="302" r="4.4"/><circle cx="1595.6" cy="299.4" r="4.4"/><circle cx="1599.3" cy="305.7" r="4.4"/><circle cx="1603.1" cy="297" r="4.4"/><circle cx="1498.5" cy="328.1" r="4.4"/><circle cx="1468.4" cy="336" r="4.4"/><circle cx="1471.7" cy="341.5" r="4.4"/><circle cx="1481.4" cy="343.7" r="4.4"/><circle cx="1423.3" cy="340.1" r="4.4"/><circle cx="1426.9" cy="343.4" r="4.4"/><circle cx="1564.4" cy="339.3" r="4.4"/><circle cx="1509.1" cy="353.4" r="4.4"/><circle cx="1425.5" cy="363.6" r="4.4"/><circle cx="1429.7" cy="360.9" r="4.4"/><circle cx="1432.4" cy="372.5" r="4.4"/><circle cx="1436.6" cy="375.2" r="4.4"/><circle cx="1447.7" cy="367.8" r="4.4"/><circle cx="1463.4" cy="365.6" r="4.4"/><circle cx="1476.7" cy="370.5" r="4.4"/><circle cx="1498.8" cy="370.5" r="4.4"/><circle cx="1501.6" cy="369.7" r="4.4"/><circle cx="1511.3" cy="376.9" r="4.4"/><circle cx="1519.6" cy="376.9" r="4.4"/><circle cx="1523.7" cy="370.5" r="4.4"/><circle cx="1538.1" cy="363.1" r="4.4"/><circle cx="1548.6" cy="371.1" r="4.4"/><circle cx="1559.1" cy="370" r="4.4"/><circle cx="1563" cy="376.6" r="4.4"/><circle cx="1573.5" cy="370.5" r="4.4"/><circle cx="1577.7" cy="363.6" r="4.4"/><circle cx="1582.4" cy="373.9" r="4.4"/><circle cx="1590.7" cy="370.5" r="4.4"/><circle cx="1597.9" cy="371.4" r="4.4"/><circle cx="1420" cy="373.3" r="4.4"/><circle cx="1432.4" cy="410.7" r="4.4"/><circle cx="1444.9" cy="412" r="4.4"/><circle cx="1429.7" cy="417.6" r="4.4"/><circle cx="1420" cy="410.7" r="4.4"/><circle cx="1458.7" cy="416.2" r="4.4"/></g><g fill="#e53935"><circle cx="365" cy="302.2" r="6.25"/><circle cx="361.4" cy="315.2" r="6.25"/><circle cx="380.2" cy="320.7" r="6.25"/><circle cx="441.8" cy="322.1" r="6.25"/><circle cx="313.8" cy="336" r="6.25"/><circle cx="320.7" cy="334.6" r="6.25"/><circle cx="337.3" cy="329" r="6.25"/><circle cx="337.3" cy="336" r="6.25"/><circle cx="347" cy="336" r="6.25"/><circle cx="353.9" cy="336" r="6.25"/><circle cx="349.8" cy="341.5" r="6.25"/><circle cx="376" cy="336" r="6.25"/><circle cx="382.9" cy="341.5" r="6.25"/><circle cx="392.6" cy="334.6" r="6.25"/><circle cx="400.9" cy="336" r="6.25"/><circle cx="395.4" cy="347" r="6.25"/><circle cx="413.4" cy="334.6" r="6.25"/><circle cx="416.1" cy="341.5" r="6.25"/><circle cx="424.4" cy="334.6" r="6.25"/><circle cx="439.6" cy="336" r="6.25"/><circle cx="436.9" cy="345.6" r="6.25"/><circle cx="447.9" cy="336" r="6.25"/><circle cx="446.5" cy="344.2" r="6.25"/><circle cx="459" cy="337.3" r="6.25"/><circle cx="470" cy="334.6" r="6.25"/><circle cx="468.7" cy="345.6" r="6.25"/><circle cx="479.7" cy="337.3" r="6.25"/><circle cx="478.3" cy="342.9" r="6.25"/><circle cx="485.3" cy="348.4" r="6.25"/><circle cx="307.4" cy="341.5" r="6.25"/><circle cx="186" cy="481.1" r="6.25"/><circle cx="197.7" cy="481.1" r="6.25"/><circle cx="253" cy="477" r="6.25"/><circle cx="261.3" cy="477" r="6.25"/><circle cx="269.6" cy="477" r="6.25"/><circle cx="279.2" cy="476.2" r="6.25"/><circle cx="293.1" cy="475" r="6.25"/><circle cx="298.6" cy="475" r="6.25"/><circle cx="304.1" cy="475" r="6.25"/><circle cx="301" cy="475" r="6.25"/><circle cx="296" cy="475" r="6.25"/><circle cx="522.9" cy="320.7" r="6.25"/><circle cx="495.2" cy="334.6" r="6.25"/><circle cx="500.7" cy="337" r="6.25"/><circle cx="514.6" cy="336" r="6.25"/><circle cx="527" cy="336" r="6.25"/><circle cx="545" cy="338.7" r="6.25"/><circle cx="556" cy="336" r="6.25"/><circle cx="563" cy="336" r="6.25"/><circle cx="572.6" cy="336" r="6.25"/><circle cx="594.8" cy="348.4" r="6.25"/><circle cx="625.2" cy="338.7" r="6.25"/><circle cx="637.6" cy="333.2" r="6.25"/><circle cx="644.5" cy="335.4" r="6.25"/><circle cx="636.2" cy="347" r="6.25"/><circle cx="659.8" cy="341.5" r="6.25"/><circle cx="686" cy="338.7" r="6.25"/><circle cx="698.5" cy="336" r="6.25"/><circle cx="704" cy="336" r="6.25"/><circle cx="711" cy="336.5" r="6.25"/><circle cx="730" cy="334.6" r="6.25"/><circle cx="742.7" cy="337.3" r="6.25"/><circle cx="759.3" cy="338.7" r="6.25"/><circle cx="766" cy="337.3" r="6.25"/><circle cx="774.5" cy="337.3" r="6.25"/><circle cx="787" cy="337.3" r="6.25"/><circle cx="795.3" cy="323.5" r="6.25"/><circle cx="798" cy="336" r="6.25"/><circle cx="579" cy="475" r="6.25"/><circle cx="596.7" cy="475" r="6.25"/><circle cx="668.9" cy="475" r="6.25"/><circle cx="714.2" cy="475" r="6.25"/><circle cx="735.8" cy="475" r="6.25"/><circle cx="797.2" cy="475" r="6.25"/><circle cx="550.5" cy="557" r="6.25"/><circle cx="816.6" cy="300.7" r="6.25"/><circle cx="809.7" cy="322.9" r="6.25"/><circle cx="800" cy="332.5" r="6.25"/><circle cx="804" cy="334" r="6.25"/><circle cx="818" cy="331.2" r="6.25"/><circle cx="824.9" cy="334" r="6.25"/><circle cx="830.4" cy="335.3" r="6.25"/><circle cx="824.9" cy="345" r="6.25"/><circle cx="840" cy="340.8" r="6.25"/><circle cx="847" cy="336.7" r="6.25"/><circle cx="855.3" cy="334" r="6.25"/><circle cx="865" cy="338" r="6.25"/><circle cx="874.7" cy="336.7" r="6.25"/><circle cx="883" cy="332.5" r="6.25"/><circle cx="894.9" cy="316" r="6.25"/><circle cx="901" cy="321.5" r="6.25"/><circle cx="923.6" cy="304.9" r="6.25"/><circle cx="932.7" cy="335.3" r="6.25"/><circle cx="943.8" cy="335.3" r="6.25"/><circle cx="952.1" cy="323.7" r="6.25"/><circle cx="966.8" cy="322" r="6.25"/><circle cx="972.8" cy="332.5" r="6.25"/><circle cx="979.8" cy="332.5" r="6.25"/><circle cx="993.6" cy="334" r="6.25"/><circle cx="1000.5" cy="334" r="6.25"/><circle cx="1006.9" cy="325.6" r="6.25"/><circle cx="1013" cy="334" r="6.25"/><circle cx="1019.9" cy="335.3" r="6.25"/><circle cx="1004.6" cy="349" r="6.25"/><circle cx="1032.3" cy="335.3" r="6.25"/><circle cx="1035.6" cy="322" r="6.25"/><circle cx="1044.7" cy="334" r="6.25"/><circle cx="1061.3" cy="335.3" r="6.25"/><circle cx="1073.8" cy="334" r="6.25"/><circle cx="1084.8" cy="334" r="6.25"/><circle cx="1104.2" cy="296" r="6.25"/><circle cx="928" cy="475" r="6.25"/><circle cx="940.2" cy="475" r="6.25"/><circle cx="1158.1" cy="322.4" r="6.25"/><circle cx="1199" cy="320.4" r="6.25"/><circle cx="1207.9" cy="321.4" r="6.25"/><circle cx="1178" cy="331.4" r="6.25"/><circle cx="1211.2" cy="338" r="6.25"/><circle cx="1217.9" cy="334.7" r="6.25"/><circle cx="1239.5" cy="334.7" r="6.25"/><circle cx="1246.1" cy="333.7" r="6.25"/><circle cx="1244.4" cy="343" r="6.25"/><circle cx="1394.8" cy="304.8" r="6.25"/><circle cx="1416.1" cy="294.2" r="6.25"/><circle cx="1185" cy="475.1" r="6.25"/><circle cx="1221.2" cy="475.1" r="6.25"/><circle cx="1306.8" cy="475.1" r="6.25"/><circle cx="1318.5" cy="475.1" r="6.25"/><circle cx="1289.2" cy="435.9" r="6.25"/><circle cx="1297.6" cy="429.3" r="6.25"/><circle cx="1308.5" cy="442.6" r="6.25"/><circle cx="1335.7" cy="432.6" r="6.25"/><circle cx="1342.4" cy="432.6" r="6.25"/><circle cx="1355.6" cy="432.6" r="6.25"/><circle cx="1363.9" cy="431" r="6.25"/><circle cx="1367.9" cy="441.9" r="6.25"/><circle cx="1375.6" cy="431" r="6.25"/><circle cx="1382.2" cy="436" r="6.25"/><circle cx="1392.2" cy="432.6" r="6.25"/><circle cx="1402.1" cy="429.3" r="6.25"/><circle cx="1410.4" cy="436" r="6.25"/><circle cx="1420.4" cy="432.6" r="6.25"/><circle cx="1425.4" cy="434.3" r="6.25"/><circle cx="1349" cy="433" r="6.25"/><circle cx="1388" cy="433" r="6.25"/><circle cx="1398" cy="434" r="6.25"/><circle cx="1415" cy="434" r="6.25"/><circle cx="1599.3" cy="172.4" r="6.25"/><circle cx="1546.3" cy="199.1" r="6.25"/><circle cx="1519.6" cy="231.7" r="6.25"/><circle cx="1529.6" cy="233.9" r="6.25"/><circle cx="1484.8" cy="240.9" r="6.25"/><circle cx="1583.6" cy="237.2" r="6.25"/><circle cx="1500.4" cy="247.1" r="6.25"/><circle cx="1507.2" cy="252.1" r="6.25"/><circle cx="1515.1" cy="256.6" r="6.25"/><circle cx="1486" cy="255.4" r="6.25"/><circle cx="1494.7" cy="257.1" r="6.25"/><circle cx="1479.8" cy="262.1" r="6.25"/><circle cx="1488.5" cy="264.6" r="6.25"/><circle cx="1466.6" cy="270" r="6.25"/><circle cx="1477.3" cy="269.6" r="6.25"/><circle cx="1509.7" cy="271.3" r="6.25"/><circle cx="1517.1" cy="269.1" r="6.25"/><circle cx="1532.1" cy="269.1" r="6.25"/><circle cx="1542" cy="262.1" r="6.25"/><circle cx="1544.5" cy="265.8" r="6.25"/><circle cx="1561.5" cy="264.6" r="6.25"/><circle cx="1569.4" cy="265.8" r="6.25"/><circle cx="1572.4" cy="257.1" r="6.25"/><circle cx="1576.4" cy="249.6" r="6.25"/><circle cx="1585.1" cy="269.1" r="6.25"/><circle cx="1602.6" cy="260.8" r="6.25"/><circle cx="1524.6" cy="286.5" r="6.25"/><circle cx="1497.2" cy="295.7" r="6.25"/><circle cx="1478.5" cy="294.5" r="6.25"/><circle cx="1472.3" cy="299.4" r="6.25"/><circle cx="1454.9" cy="298.2" r="6.25"/><circle cx="1424.1" cy="435.5" r="6.25"/><circle cx="1442.1" cy="436.9" r="6.25"/><circle cx="1453.2" cy="433.3" r="6.25"/><circle cx="1461.5" cy="435.5" r="6.25"/><circle cx="1488.6" cy="441.1" r="6.25"/><circle cx="1527.1" cy="426.7" r="6.25"/><circle cx="1541.7" cy="415.4" r="6.25"/><circle cx="1435.2" cy="476.2" r="6.25"/><circle cx="1566.6" cy="477.9" r="6.25"/><circle cx="1432" cy="435" r="6.25"/><circle cx="1447" cy="436" r="6.25"/></g><g fill="#fcb830"><circle cx="1618" cy="204.8" r="4.7"/><circle cx="1607.3" cy="220.2" r="4.7"/><circle cx="1604.3" cy="232.2" r="4.7"/><circle cx="1609.3" cy="232.2" r="4.7"/><circle cx="1610" cy="251.4" r="4.7"/><circle cx="1613" cy="258.3" r="4.7"/><circle cx="1615" cy="273.8" r="4.7"/><circle cx="1657.3" cy="184.2" r="4.7"/><circle cx="1719.6" cy="187.5" r="4.7"/><circle cx="1631.4" cy="207.7" r="4.7"/><circle cx="1677.3" cy="205.4" r="4.7"/><circle cx="1682.4" cy="205.1" r="4.7"/><circle cx="1724.7" cy="214.1" r="4.7"/><circle cx="1712.5" cy="221.6" r="4.7"/><circle cx="1780" cy="220.4" r="4.7"/><circle cx="1671.4" cy="224.6" r="4.7"/><circle cx="1624.4" cy="236.4" r="4.7"/><circle cx="1632.6" cy="236.4" r="4.7"/><circle cx="1658" cy="233.3" r="4.7"/><circle cx="1685.5" cy="230.5" r="4.7"/><circle cx="1692.1" cy="229.3" r="4.7"/><circle cx="1702.7" cy="236.4" r="4.7"/><circle cx="1711.3" cy="235.2" r="4.7"/><circle cx="1714.9" cy="241.1" r="4.7"/><circle cx="1732.5" cy="234.7" r="4.7"/><circle cx="1736.7" cy="231.7" r="4.7"/><circle cx="1743.5" cy="235.9" r="4.7"/><circle cx="1753.2" cy="235.2" r="4.7"/><circle cx="1640.1" cy="249.3" r="4.7"/><circle cx="1636.1" cy="256.4" r="4.7"/><circle cx="1638.5" cy="254" r="4.7"/><circle cx="1659.6" cy="254.7" r="4.7"/><circle cx="1664.3" cy="262.7" r="4.7"/><circle cx="1679.6" cy="262.2" r="4.7"/><circle cx="1687.1" cy="252.8" r="4.7"/><circle cx="1697.2" cy="254" r="4.7"/><circle cx="1629.1" cy="275.6" r="4.7"/><circle cx="1653.8" cy="272.8" r="4.7"/><circle cx="1649.1" cy="284.6" r="4.7"/><circle cx="1716" cy="249.3" r="4.7"/><circle cx="1704" cy="409.2" r="4.7"/><circle cx="1722" cy="409.7" r="4.7"/><circle cx="1738.9" cy="409.2" r="4.7"/><circle cx="1760.6" cy="409.2" r="4.7"/><circle cx="1767.9" cy="409.2" r="4.7"/><circle cx="1778.7" cy="409.2" r="4.7"/><circle cx="1792" cy="411.5" r="4.7"/><circle cx="1634.2" cy="436.8" r="4.7"/><circle cx="1674.9" cy="431.5" r="4.7"/><circle cx="1751.1" cy="437.3" r="4.7"/><circle cx="1606.6" cy="478" r="4.7"/><circle cx="1612.4" cy="475.1" r="4.7"/><circle cx="1756.9" cy="475.1" r="4.7"/><circle cx="1777.2" cy="481.8" r="4.7"/><circle cx="1753.4" cy="376.3" r="4.7"/><circle cx="1765" cy="376.3" r="4.7"/><circle cx="1783.3" cy="373.7" r="4.7"/><circle cx="1695.3" cy="377.2" r="4.7"/><circle cx="1734.5" cy="370" r="4.7"/></g><g fill="#66ff33"><circle cx="1713.7" cy="267.4" r="4.7"/><circle cx="1690.7" cy="274" r="4.7"/><circle cx="1673.7" cy="276.8" r="4.7"/><circle cx="1758.4" cy="268.6" r="4.7"/><circle cx="1765.9" cy="263.4" r="4.7"/><circle cx="1770.8" cy="261.1" r="4.7"/><circle cx="1781.9" cy="262.2" r="4.7"/><circle cx="1780.7" cy="268.6" r="4.7"/><circle cx="1788.9" cy="262.2" r="4.7"/><circle cx="1790.1" cy="271.6" r="4.7"/><circle cx="1797.1" cy="269.3" r="4.7"/><circle cx="1803" cy="268.1" r="4.7"/><circle cx="1805.4" cy="274.7" r="4.7"/><circle cx="1799.5" cy="254" r="4.7"/><circle cx="1773.6" cy="243.4" r="4.7"/><circle cx="1734.9" cy="257.5" r="4.7"/><circle cx="1744.3" cy="259.9" r="4.7"/><circle cx="1617.3" cy="302.2" r="4.7"/><circle cx="1620.9" cy="306.9" r="4.7"/><circle cx="1626.7" cy="296.3" r="4.7"/><circle cx="1631.4" cy="298.7" r="4.7"/><circle cx="1637.3" cy="294" r="4.7"/><circle cx="1636.6" cy="307.6" r="4.7"/><circle cx="1645.5" cy="302.2" r="4.7"/><circle cx="1646.7" cy="296.3" r="4.7"/><circle cx="1662" cy="302.2" r="4.7"/><circle cx="1665.5" cy="298.7" r="4.7"/><circle cx="1669" cy="296.3" r="4.7"/><circle cx="1673.7" cy="302.2" r="4.7"/><circle cx="1681.3" cy="294.4" r="4.7"/><circle cx="1689.5" cy="306.9" r="4.7"/><circle cx="1693.2" cy="295.2" r="4.7"/><circle cx="1700.8" cy="296.3" r="4.7"/><circle cx="1707.8" cy="295.2" r="4.7"/><circle cx="1720.7" cy="295.2" r="4.7"/><circle cx="1726.6" cy="296.3" r="4.7"/><circle cx="1761.9" cy="289.7" r="4.7"/><circle cx="1773.6" cy="296.3" r="4.7"/><circle cx="1794.8" cy="295.2" r="4.7"/><circle cx="1806.5" cy="301" r="4.7"/><circle cx="1665.5" cy="324.5" r="4.7"/><circle cx="1719.6" cy="315.1" r="4.7"/><circle cx="1624.1" cy="374.9" r="4.7"/><circle cx="1628.4" cy="370.5" r="4.7"/><circle cx="1643" cy="371.4" r="4.7"/><circle cx="1653.1" cy="370.5" r="4.7"/><circle cx="1661" cy="360.6" r="4.7"/><circle cx="1685.1" cy="371.4" r="4.7"/><circle cx="1688.6" cy="368.5" r="4.7"/><circle cx="1708.9" cy="335.9" r="4.7"/><circle cx="1741.2" cy="344.3" r="4.7"/><circle cx="1739.4" cy="352.5" r="4.7"/><circle cx="1795.5" cy="330.7" r="4.7"/><circle cx="1793.5" cy="335" r="4.7"/><circle cx="1803.7" cy="342.9" r="4.7"/><circle cx="1741.8" cy="321.4" r="4.7"/><circle cx="1651.7" cy="391.7" r="4.7"/><circle cx="1611" cy="300" r="4.7"/><circle cx="1656" cy="299" r="4.7"/><circle cx="1742" cy="297" r="4.7"/><circle cx="1752" cy="298" r="4.7"/><circle cx="1784" cy="297" r="4.7"/></g><g fill="#0097a7"><circle cx="1607" cy="335.5" r="8.1"/><circle cx="1609.4" cy="339.4" r="8.1"/><circle cx="1611.8" cy="343" r="8.1"/><circle cx="1614.2" cy="344" r="8.1"/><circle cx="1616.6" cy="343.2" r="8.1"/><circle cx="1619" cy="340" r="8.1"/><circle cx="1621.4" cy="340.9" r="8.1"/><circle cx="1623.8" cy="339" r="8.1"/><circle cx="1626.3" cy="335.6" r="8.1"/><circle cx="1628.7" cy="338.1" r="8.1"/><circle cx="1631.1" cy="342.4" r="8.1"/><circle cx="1633.5" cy="340.1" r="8.1"/><circle cx="1635.9" cy="338.2" r="8.1"/><circle cx="1638.3" cy="335.8" r="8.1"/><circle cx="1640.7" cy="338.6" r="8.1"/><circle cx="1643.1" cy="336.7" r="8.1"/><circle cx="1645.5" cy="338.3" r="8.1"/><circle cx="1647.9" cy="339.3" r="8.1"/><circle cx="1650.3" cy="330.4" r="8.1"/><circle cx="1652.7" cy="336.8" r="8.1"/><circle cx="1655.1" cy="332.2" r="8.1"/><circle cx="1657.5" cy="333.5" r="8.1"/><circle cx="1660" cy="332.2" r="8.1"/><circle cx="1662.4" cy="338.4" r="8.1"/><circle cx="1664.8" cy="336" r="8.1"/><circle cx="1667.2" cy="334.4" r="8.1"/><circle cx="1669.6" cy="329.6" r="8.1"/><circle cx="1672" cy="326.4" r="8.1"/><circle cx="1674.4" cy="328.6" r="8.1"/><circle cx="1676.8" cy="329" r="8.1"/><circle cx="1679.2" cy="326.6" r="8.1"/><circle cx="1681.6" cy="327.4" r="8.1"/><circle cx="1684" cy="322.7" r="8.1"/><circle cx="1686.4" cy="327.8" r="8.1"/><circle cx="1688.8" cy="322.8" r="8.1"/><circle cx="1691.2" cy="325.5" r="8.1"/><circle cx="1693.7" cy="318.9" r="8.1"/><circle cx="1696.1" cy="316.3" r="8.1"/><circle cx="1698.5" cy="313.2" r="8.1"/><circle cx="1700.9" cy="317" r="8.1"/><circle cx="1703.3" cy="316.6" r="8.1"/><circle cx="1705.7" cy="312.9" r="8.1"/><circle cx="1708.1" cy="313.3" r="8.1"/><circle cx="1710.5" cy="310.9" r="8.1"/><circle cx="1712.9" cy="310.2" r="8.1"/><circle cx="1715.3" cy="310.2" r="8.1"/><circle cx="1717.7" cy="305" r="8.1"/><circle cx="1720.1" cy="307.4" r="8.1"/><circle cx="1722.5" cy="310.6" r="8.1"/><circle cx="1724.9" cy="310.9" r="8.1"/><circle cx="1727.4" cy="313.8" r="8.1"/><circle cx="1729.8" cy="312.4" r="8.1"/><circle cx="1732.2" cy="311.8" r="8.1"/><circle cx="1734.6" cy="310.6" r="8.1"/><circle cx="1737" cy="303.5" r="8.1"/><circle cx="1739.4" cy="310.6" r="8.1"/><circle cx="1741.8" cy="307.7" r="8.1"/><circle cx="1744.2" cy="311.8" r="8.1"/><circle cx="1746.6" cy="309.3" r="8.1"/><circle cx="1749" cy="309" r="8.1"/><circle cx="1751.4" cy="308.3" r="8.1"/><circle cx="1753.8" cy="308.9" r="8.1"/><circle cx="1756.2" cy="303.6" r="8.1"/><circle cx="1758.6" cy="304.6" r="8.1"/><circle cx="1761.1" cy="313.1" r="8.1"/><circle cx="1763.5" cy="310.5" r="8.1"/><circle cx="1765.9" cy="307.5" r="8.1"/><circle cx="1768.3" cy="307.6" r="8.1"/><circle cx="1770.7" cy="307.3" r="8.1"/><circle cx="1773.1" cy="318.2" r="8.1"/><circle cx="1775.5" cy="309.5" r="8.1"/><circle cx="1777.9" cy="307.7" r="8.1"/><circle cx="1780.3" cy="305.3" r="8.1"/><circle cx="1782.7" cy="299" r="8.1"/><circle cx="1785.1" cy="305.5" r="8.1"/><circle cx="1787.5" cy="308.4" r="8.1"/><circle cx="1789.9" cy="305.9" r="8.1"/><circle cx="1792.3" cy="304.5" r="8.1"/><circle cx="1794.8" cy="302.6" r="8.1"/><circle cx="1797.2" cy="301.6" r="8.1"/><circle cx="1799.6" cy="306.2" r="8.1"/><circle cx="1802" cy="305.4" r="8.1"/><circle cx="1804.4" cy="303.9" r="8.1"/><circle cx="1806.8" cy="313.3" r="8.1"/></g><g fill="none" stroke="#1976d2" stroke-width="3.75" stroke-linejoin="miter" stroke-miterlimit="8"><path d="M177 352.1L178.8 354.9L180.6 344.5L182.4 349.9L184.2 351.4L186 347.8L187.8 358.3L189.6 351.2L191.4 349.4L193.2 358.5L195.1 351.2L196.9 357.2L198.7 356.9L200.5 364.9L202.3 366.5L204.1 361.4L205.9 363L207.7 361.2L209.5 361.4L211.3 362.7L213.1 357.6L214.9 357.2L216.7 367.9L218.5 365.9L220.3 362.6L222.1 364.1L223.9 365L225.7 366.1L227.5 377.7L229.4 370.4L231.2 361.7L233 364.3L234.8 369.8L236.6 370L238.4 366.4L240.2 368.6L242 362.6L243.8 373.1L245.6 368.6L247.4 360.4L249.2 365.5L251 367.7L252.8 360L254.6 365.8L256.4 362.5L258.2 362.3L260 366.1L261.9 366.2L263.7 363.7L265.5 368.2L267.3 358.9L269.1 357.8L270.9 354.8L272.7 359.8L274.5 359.2L276.3 363.9L278.1 353.7L279.9 353.4L281.7 356.8L283.5 354.2L285.3 349.4L287.1 348.7L288.9 353L290.7 343.7L292.5 330.8L294.3 344.8L296.2 343.2L298 341L299.8 346.5L301.6 345.5L303.4 345.8L305.2 344.4L307 343.8L308.8 348.3L310.6 349.7L312.4 340.8L314.2 348.1L316 343.2L317.8 348.3L319.6 342.7L321.4 340.9L323.2 343.7L325 345.2L326.8 345.7L328.6 351.7L330.5 342.8L332.3 343.7L334.1 340.1L335.9 348.7L337.7 348.3L339.5 348.9L341.3 341.8L343.1 346L344.9 349L346.7 347.3L348.5 343.4L350.3 347.2L352.1 351.2L353.9 349.5L355.7 341.1L357.5 349.2L359.3 356.5L361.1 334L363 354.8L364.8 350.3L366.6 352.6L368.4 344.4L370.2 352.6L372 356.3L373.8 335.8L375.6 346.6L377.4 348.1L379.2 349.2L381 348.5L382.8 355.6L384.6 359.9L386.4 357.3L388.2 343.4L390 349.2L391.8 348.9L393.6 359.8L395.4 351L397.3 352.8L399.1 361.8L400.9 357.3L402.7 353.5L404.5 365.8L406.3 363L408.1 353.1L409.9 360.3L411.7 351.5L413.5 355.8L415.3 353.8L417.1 361L418.9 362.4L420.7 354.7L422.5 368.8L424.3 353L426.1 360.4L427.9 356L429.7 358.3L431.6 360.5L433.4 353.4L435.2 361.7L437 362.6L438.8 356.3L440.6 352.5L442.4 357.6L444.2 352.8L446 355.2L447.8 350.8L449.6 354.7L451.4 348.3L453.2 355.8L455 363.9L456.8 353.5L458.6 358.5L460.4 358.8L462.2 356.8L464.1 354.9L465.9 349.3L467.7 352.4L469.5 352.2L471.3 352.1L473.1 354.1L474.9 349.3L476.7 343.4L478.5 352.6L480.3 348L482.1 350.8L483.9 347.9L485.7 358L487.5 343.4L489.3 350.6L491.1 348.9L492.9 348L494.7 339.7L496.5 342.2L498.4 339.9L500.2 341.1L502 338.3L503.8 337.7L505.6 343.3L507.4 339.2L509.2 344.4L511 339.5L512.8 344.3L514.6 355.5L516.4 341.9L518.2 354.6L520 340.8L521.8 339.4L523.6 346.8L525.4 345.9L527.2 339.5L529 348.8L530.8 352.1L532.7 344.9L534.5 352.2L536.3 347L538.1 343.9L539.9 347.3L541.7 348.5L543.5 349.2L545.3 344.6L547.1 350.5L548.9 341.4L550.7 336.8L552.5 347L554.3 348.8L556.1 345.4L557.9 338.6L559.7 341.8L561.5 336.7L563.3 340.9L565.2 342.4L567 345.1L568.8 354.7L570.6 347.9L572.4 343L574.2 344.8L576 341.1L577.8 347.7L579.6 346.8L581.4 352.4L583.2 349.2L585 350.3L586.8 359.1L588.6 347.1L590.4 345.8L592.2 356.3L594 350.8L595.8 352.1L597.6 351.6L599.5 344.8L601.3 362L603.1 357.3L604.9 350.8L606.7 342.2L608.5 349.2L610.3 359.8L612.1 352L613.9 363.5L615.7 354.7L617.5 352.3L619.3 358.9L621.1 355.3L622.9 362.1L624.7 363.3L626.5 348.7L628.3 355.6L630.1 363.2L631.9 370.1L633.8 356.4L635.6 348.4L637.4 360.7L639.2 365.3L641 356.9L642.8 361.4L644.6 354.1L646.4 351.6L648.2 359.4L650 356.3L651.8 354.5L653.6 352.1L655.4 361.1L657.2 363L659 353.9L660.8 360.3L662.6 349.4L664.4 352L666.3 357.8L668.1 346.3L669.9 344.8L671.7 357.5L673.5 342.5L675.3 339.9L677.1 338L678.9 346.2L680.7 346.3L682.5 341.1L684.3 345.7L686.1 347.3L687.9 336.6L689.7 345L691.5 335.1L693.3 338.7L695.1 341.4L696.9 337.1L698.7 337.8L700.6 341.9L702.4 344.7L704.2 337L706 343.5L707.8 340.7L709.6 339.7L711.4 337.7L713.2 337.1L715 337.2L716.8 335.2L718.6 337.5L720.4 334.2L722.2 329.7L724 333.9L725.8 330.9L727.6 340.2L729.4 329.8L731.2 343.1L733 335.5L734.9 341.2L736.7 336.7L738.5 340.8L740.3 332.1L742.1 337.9L743.9 340.7L745.7 325.6L747.5 331.5L749.3 337.1L751.1 346.1L752.9 338.1L754.7 339.8L756.5 343.6L758.3 335.9L760.1 344.5L761.9 339.2L763.7 345.3L765.5 340.4L767.4 343.4L769.2 354.8L771 344.1L772.8 346.1L774.6 334.8L776.4 336.1L778.2 341.6L780 340.8L781.8 344.1L783.6 341.5L785.4 345.1L787.2 348.5L789 354.1L790.8 349.1L792.6 351.7L794.4 349L796.2 345.1L798 346L799.8 348.6L801.7 340.7L803.5 346.8L805.3 339.2L807.1 351.9L808.9 352.1L810.7 346L812.5 340.2L814.3 354.5L816.1 355.9L817.9 354L819.7 354.7L821.5 355.7L823.3 343.3L825.1 344.1L826.9 355L828.7 349.3L830.5 355L832.3 349.5L834.1 358.8L836 349L837.8 345.8L839.6 350.3L841.4 365.2L843.2 348.1L845 363.3L846.8 350.6L848.6 356.6L850.4 360.2L852.2 358.5L854 355.5L855.8 357.9L857.6 353.7L859.4 352.6L861.2 353.5L863 349.5L864.8 355.3L866.6 351.6L868.5 350.9L870.3 351.3L872.1 346.4L873.9 351.9L875.7 352.2L877.5 352.9L879.3 338.5L881.1 343.6L882.9 338.9L884.7 340.3L886.5 328.7L888.3 341.7L890.1 341.4L891.9 341L893.7 337.1L895.5 347.1L897.3 337.3L899.1 330.2L900.9 340.2L902.8 334.6L904.6 336.2L906.4 338.9L908.2 331.3L910 331.1L911.8 340.4L913.6 330.9L915.4 333.5L917.2 329.8L919 336.9L920.8 335L922.6 337.8L924.4 333.2L926.2 336.2L928 332.3L929.8 337.5L931.6 344.4L933.4 338.3L935.2 344.3L937.1 339.7L938.9 334.8L940.7 345L942.5 342.5L944.3 336.5L946.1 339.9L947.9 337.6L949.7 342.8L951.5 337.9L953.3 346.3L955.1 340.5L956.9 339L958.7 342.5L960.5 336.9L962.3 341.7L964.1 342.6L965.9 340.3L967.7 344.7L969.6 336.9L971.4 346.6L973.2 343.1L975 338.4L976.8 341.6L978.6 346.8L980.4 342.8L982.2 336.9L984 343.8L985.8 348.5L987.6 336.4L989.4 340.4L991.2 350.8L993 340.3L994.8 336.6L996.6 347.4L998.4 343.2L1000.2 353.7L1002 346.9L1003.9 342.5L1005.7 348.1L1007.5 352.9L1009.3 341.6L1011.1 347.8L1012.9 355.9L1014.7 355L1016.5 353.8L1018.3 356.4L1020.1 346L1021.9 352L1023.7 347L1025.5 353.1L1027.3 355.4L1029.1 355.2L1030.9 353.3L1032.7 347.6L1034.5 349.9L1036.3 354.1L1038.2 351.5L1040 348.4L1041.8 349.7L1043.6 348.1L1045.4 353.2L1047.2 352.9L1049 353.5L1050.8 349.8L1052.6 362.6L1054.4 343.4L1056.2 349.1L1058 347.5L1059.8 344.1L1061.6 344.4L1063.4 341.9L1065.2 338.8L1067 349.4L1068.8 344.9L1070.7 344.8L1072.5 342L1074.3 340.2L1076.1 339L1077.9 339.9L1079.7 337.8L1081.5 332.5L1083.3 333.3L1085.1 333.7L1086.9 333.2L1088.7 325.3L1090.5 335.6L1092.3 332.4L1094.1 330.6L1095.9 331.4L1097.7 326.1L1099.5 346.5L1101.3 331.6L1103.1 324.8L1105 329.2L1106.8 328.3L1108.6 326.4L1110.4 330.4L1112.2 320.8L1114 328.9L1115.8 332.6L1117.6 334.2L1119.4 330.1L1121.2 321.8L1123 325.6L1124.8 328.2L1126.6 333.1L1128.4 328.8L1130.2 329.2L1132 333.5L1133.8 320.6L1135.6 318.2L1137.5 322.1L1139.3 324.4L1141.1 336.8L1142.9 329.8L1144.7 328.7L1146.5 321.1L1148.3 324.3L1150.1 328.4L1151.9 326.1L1153.7 324.9L1155.5 323.7L1157.3 331.2L1159.1 334.8L1160.9 335.2L1162.7 330.4L1164.5 334.4L1166.3 333.5L1168.1 334.3L1169.9 332.3L1171.8 332.3L1173.6 331.9L1175.4 329.7L1177.2 333.2L1179 337.8L1180.8 327.9L1182.6 350.7L1184.4 341.1L1186.2 334.7L1188 342.1L1189.8 329.7L1191.6 338.7L1193.4 341.2L1195.2 339L1197 342L1198.8 338.7L1200.6 342.5L1202.4 344.6L1204.2 338.7L1206.1 338.2L1207.9 340.8L1209.7 340L1211.5 341.3L1213.3 333.8L1215.1 347L1216.9 340L1218.7 343.5L1220.5 342.6L1222.3 343.9L1224.1 334.9L1225.9 345L1227.7 347L1229.5 338.8L1231.3 340.3L1233.1 342.8L1234.9 343.5L1236.7 346.2L1238.6 337L1240.4 341.3L1242.2 335.7L1244 347.2L1245.8 339.1L1247.6 341.4L1249.4 343.4L1251.2 342.3L1253 343.4L1254.8 341L1256.6 345.9L1258.4 341.5L1260.2 342.9L1262 341.9L1263.8 335.9L1265.6 342.7L1267.4 325.5L1269.2 334.5L1271 334.8L1272.9 341.3L1274.7 327.8L1276.5 335.5L1278.3 335.2L1280.1 324L1281.9 328.9L1283.7 322.8L1285.5 330.7L1287.3 328.8L1289.1 315.7L1290.9 325.2L1292.7 327.9L1294.5 315.8L1296.3 315.7L1298.1 321.6L1299.9 307.8L1301.7 308.3L1303.5 320.9L1305.3 311.6L1307.2 310.1L1309 315.4L1310.8 315.9L1312.6 302.9L1314.4 312.3L1316.2 312.3L1318 312.9L1319.8 315.8L1321.6 313.3L1323.4 313L1325.2 313.2L1327 311.6L1328.8 310.9L1330.6 307L1332.4 321.1L1334.2 315L1336 315.8L1337.8 316.7L1339.7 312.1L1341.5 307.6L1343.3 309.7L1345.1 317.5L1346.9 308.5L1348.7 316.7L1350.5 319.9L1352.3 302.3L1354.1 307.2L1355.9 316.8L1357.7 314.6L1359.5 310.2L1361.3 306.2L1363.1 311.3L1364.9 307.5L1366.7 312.9L1368.5 310L1370.3 313.7L1372.1 314.1L1374 314.4L1375.8 305.7L1377.6 302.5L1379.4 303L1381.2 302.9L1383 299L1384.8 305.9L1386.6 304.8L1388.4 308.7L1390.2 301.3L1392 310.2L1393.8 314.8L1395.6 306.9L1397.4 300.5L1399.2 306.1L1401 312.3L1402.8 310.1L1404.6 311.3L1406.4 307.4L1408.3 311.8L1410.1 300.1L1411.9 305.1L1413.7 310.5L1415.5 320.3L1417.3 318.7L1419.1 310L1420.9 315.1L1422.7 311.8L1424.5 313.9L1426.3 317.5L1428.1 317.8L1429.9 314.8L1431.7 312L1433.5 305.9L1435.3 321.4L1437.1 319.9L1438.9 309.6L1440.8 316L1442.6 300.6L1444.4 315.9L1446.2 309.7L1448 312.7L1449.8 309.7L1451.6 309.4L1453.4 311.8L1455.2 306.1L1457 311.5L1458.8 306.9L1460.6 295.5L1462.4 296.6L1464.2 302.3L1466 298.8L1467.8 303.1L1469.6 295.8L1471.4 302.9L1473.2 305.7L1475.1 294.8L1476.9 297.9L1478.7 295.5L1480.5 292.7L1482.3 295L1484.1 290.8L1485.9 292.3L1487.7 293.6L1489.5 289.5L1491.3 289.7L1493.1 287L1494.9 291L1496.7 286.7L1498.5 287.8L1500.3 288.3L1502.1 283.4L1503.9 285.9L1505.7 286L1507.5 286.5L1509.4 283.1L1511.2 287L1513 278.2L1514.8 277.9L1516.6 284.3L1518.4 275.7L1520.2 277.3L1522 282.3L1523.8 281.9L1525.6 277.5L1527.4 271.6L1529.2 273.7L1531 285L1532.8 278.2L1534.6 282.9L1536.4 278.9L1538.2 284.1L1540 279.6L1541.9 274.6L1543.7 272.9L1545.5 263.8L1547.3 279.6L1549.1 281.9L1550.9 276L1552.7 281L1554.5 290.8L1556.3 276.6L1558.1 279.6L1559.9 279.9L1561.7 274.1L1563.5 281.1L1565.3 290.6L1567.1 279.2L1568.9 281.6L1570.7 284.2L1572.5 279.2L1574.3 282.7L1576.2 280.7L1578 287.7L1579.8 274.4L1581.6 271.7L1583.4 282.5L1585.2 283.5L1587 276.6L1588.8 279.3L1590.6 281.8L1592.4 285.3L1594.2 278.8L1596 287.3L1597.8 281.4L1599.6 280.4L1601.4 286.1L1603.2 276.1L1605 286.4L1606.8 273.8L1608.6 283.5L1610.5 285L1612.3 290.3L1614.1 283.9L1615.9 293.9L1617.7 290.4L1619.5 284.1L1621.3 282.9L1623.1 283.4L1624.9 272.2L1626.7 283.7L1628.5 277.3L1630.3 274.8L1632.1 279.7L1633.9 275.2L1635.7 280.3L1637.5 269.7L1639.3 287.6L1641.1 290.3L1643 279.7L1644.8 269.1L1646.6 279L1648.4 278L1650.2 276.3L1652 282.3L1653.8 278.1L1655.6 289.1L1657.4 278.5L1659.2 266.5L1661 267.2L1662.8 270.2L1664.6 279.3L1666.4 271L1668.2 266.4L1670 262L1671.8 268.2L1673.6 270.5L1675.4 272.9L1677.3 260.8L1679.1 257.5L1680.9 258.7L1682.7 267.1L1684.5 272L1686.3 263.9L1688.1 267.6L1689.9 270.1L1691.7 263.9L1693.5 269.2L1695.3 269.7L1697.1 265.8L1698.9 266.2L1700.7 267.7L1702.5 259.6L1704.3 261.4L1706.1 266.9L1707.9 256.9L1709.7 261.1L1711.6 249.3L1713.4 258L1715.2 257.7L1717 252.6L1718.8 250.3L1720.6 254.2L1722.4 258.6L1724.2 266.6L1726 269.1L1727.8 253.8L1729.6 255.3L1731.4 256.8L1733.2 253.1L1735 252.5L1736.8 253L1738.6 254.6L1740.4 257.3L1742.2 255.4L1744.1 255L1745.9 267.4L1747.7 258.4L1749.5 256.9L1751.3 258.7L1753.1 250.9L1754.9 252L1756.7 250.2L1758.5 251.3L1760.3 247.1L1762.1 244.3L1763.9 246.3L1765.7 248.7L1767.5 259.7L1769.3 251L1771.1 245.8L1772.9 254L1774.7 242.2L1776.5 238.5L1778.4 236.7L1780.2 252.5L1782 245.6L1783.8 247.8L1785.6 244.5L1787.4 242.6L1789.2 249.1L1791 234.8L1792.8 252.5L1794.6 250L1796.4 241.6L1798.2 245.1L1800 242L1801.8 250.4L1803.6 249.7L1805.4 249.6L1807.2 250.6"/><path d="M177 481.5L178.8 474.7L180.6 471.2L182.4 473.1L184.2 465.6L186 478.2L187.8 479.7L189.6 475L191.4 474.9L193.2 475.8L195.1 476.4L196.9 481.6L198.7 478.6L200.5 475.1L202.3 477.1L204.1 474.2L205.9 475.8L207.7 475.1L209.5 475.3L211.3 477.9L213.1 477.5L214.9 483.9L216.7 476.9L218.5 481.9L220.3 476.9L222.1 479.3L223.9 478.6L225.7 473.7L227.5 485.9L229.4 479L231.2 483.3L233 474.7L234.8 489.5L236.6 480.8L238.4 488.2L240.2 480.7L242 485.6L243.8 482.2L245.6 469.3L247.4 480.5L249.2 479.3L251 487.9L252.8 476.4L254.6 479.3L256.4 486.9L258.2 481.7L260 473L261.9 475.4L263.7 475.3L265.5 469.4L267.3 468.4L269.1 472L270.9 478.6L272.7 475.8L274.5 468.4L276.3 470.2L278.1 475.1L279.9 470.5L281.7 471.1L283.5 465.3L285.3 467.8L287.1 464.8L288.9 456.6L290.7 459L292.5 461.1L294.3 458.2L296.2 451.7L298 458.3L299.8 456.8L301.6 461L303.4 461.1L305.2 456.7L307 459.4L308.8 453.7L310.6 458.1L312.4 460.6L314.2 462.3L316 456.2L317.8 464.3L319.6 464.6L321.4 461.2L323.2 469.7L325 461.3L326.8 461.3L328.6 460.9L330.5 471.3L332.3 455.2L334.1 471.8L335.9 462.1L337.7 462.3L339.5 465.2L341.3 462.8L343.1 460.6L344.9 471.2L346.7 464.1L348.5 463.3L350.3 466.6L352.1 463.5L353.9 474.9L355.7 460L357.5 454.4L359.3 457.4L361.1 463.2L363 467.1L364.8 456.8L366.6 454.3L368.4 466.7L370.2 463.4L372 462.7L373.8 467L375.6 470L377.4 469.7L379.2 470L381 471.9L382.8 471.5L384.6 475.4L386.4 464.1L388.2 469.1L390 480.9L391.8 466.2L393.6 479.3L395.4 475.7L397.3 474.3L399.1 474.2L400.9 474L402.7 468.6L404.5 484.8L406.3 480.5L408.1 480L409.9 478L411.7 474.2L413.5 481.6L415.3 474L417.1 476.3L418.9 476.6L420.7 480.1L422.5 477.5L424.3 468.9L426.1 476.7L427.9 474L429.7 474.8L431.6 478.6L433.4 489.2L435.2 466.2L437 471.6L438.8 474.2L440.6 469.1L442.4 467.2L444.2 473.2L446 471.5L447.8 472.7L449.6 472.8L451.4 470.5L453.2 469.5L455 463.9L456.8 465.5L458.6 471.3L460.4 471.4L462.2 456.7L464.1 464.1L465.9 467.3L467.7 465.4L469.5 464.5L471.3 460.2L473.1 463.4L474.9 463.3L476.7 457.9L478.5 457.8L480.3 455.2L482.1 459L483.9 461.6L485.7 451.5L487.5 461.1L489.3 452.1L491.1 460.9L492.9 461L494.7 446.1L496.5 452.8L498.4 454.7L500.2 454.5L502 458.4L503.8 453.8L505.6 458.9L507.4 465.4L509.2 462.9L511 452.4L512.8 454.9L514.6 450.7L516.4 462.3L518.2 452.4L520 447.8L521.8 460.3L523.6 457.6L525.4 450.8L527.2 457.8L529 451.8L530.8 451.5L532.7 451.1L534.5 453.4L536.3 457.5L538.1 454.7L539.9 455.1L541.7 458.5L543.5 453.4L545.3 459L547.1 459L548.9 462.4L550.7 460.5L552.5 459.3L554.3 452.2L556.1 462L557.9 461.4L559.7 450.2L561.5 466.9L563.3 467.8L565.2 453.6L567 461L568.8 458.8L570.6 458.9L572.4 456L574.2 460.6L576 459.2L577.8 456.4L579.6 459.5L581.4 461.5L583.2 464.5L585 460.8L586.8 466.1L588.6 477.1L590.4 457.2L592.2 460.8L594 468.9L595.8 471.8L597.6 468L599.5 471.4L601.3 468.7L603.1 468.6L604.9 469.1L606.7 464.7L608.5 464.3L610.3 468.8L612.1 464.6L613.9 472.3L615.7 474.8L617.5 475.3L619.3 472.7L621.1 480.3L622.9 463.6L624.7 471.8L626.5 465.5L628.3 479.9L630.1 480.1L631.9 483.8L633.8 474.1L635.6 480.7L637.4 474.8L639.2 473.6L641 465.6L642.8 472.6L644.6 470.8L646.4 460.1L648.2 471.1L650 471.2L651.8 462.1L653.6 472.5L655.4 463.4L657.2 461.5L659 467.8L660.8 464.5L662.6 465.7L664.4 458.8L666.3 466.9L668.1 460.8L669.9 461.3L671.7 457L673.5 463.3L675.3 466.2L677.1 462.5L678.9 461.2L680.7 471.6L682.5 458.7L684.3 455.8L686.1 447.4L687.9 463L689.7 454.1L691.5 456.3L693.3 462.3L695.1 460.3L696.9 458.4L698.7 461.9L700.6 458L702.4 451L704.2 449.4L706 462.9L707.8 450.9L709.6 442.7L711.4 453.6L713.2 454.7L715 453.6L716.8 448.8L718.6 445.8L720.4 459.2L722.2 454.2L724 457.5L725.8 449.7L727.6 452L729.4 457.1L731.2 448.6L733 453.5L734.9 454.6L736.7 463.1L738.5 452.4L740.3 461.3L742.1 447L743.9 455.5L745.7 454.5L747.5 459.1L749.3 451.3L751.1 461.6L752.9 456.6L754.7 456.1L756.5 460.4L758.3 453.5L760.1 458.4L761.9 453.1L763.7 460.2L765.5 454.7L767.4 458.9L769.2 457L771 453.9L772.8 452.2L774.6 454.6L776.4 453.9L778.2 454.5L780 447.6L781.8 457.3L783.6 459.8L785.4 449.1L787.2 444.6L789 465.1L790.8 463.7L792.6 457.2L794.4 456.2L796.2 465.7L798 464.7L799.8 466.3L801.7 468.5L803.5 468.6L805.3 471L807.1 458.6L808.9 469.1L810.7 472.8L812.5 467.1L814.3 464.8L816.1 468.8L817.9 476L819.7 472.4L821.5 464.2L823.3 472.4L825.1 470.9L826.9 464.6L828.7 475.2L830.5 468.8L832.3 475.6L834.1 460.6L836 469.2L837.8 467.8L839.6 469L841.4 474.1L843.2 470.6L845 467.1L846.8 474.2L848.6 464.2L850.4 472L852.2 466.4L854 465L855.8 472.4L857.6 463.8L859.4 463.6L861.2 468.2L863 460.4L864.8 464.5L866.6 459.4L868.5 460.7L870.3 463.5L872.1 461.9L873.9 459L875.7 455.9L877.5 451.7L879.3 456.7L881.1 456.3L882.9 458.6L884.7 454.6L886.5 448.5L888.3 467.1L890.1 446L891.9 448.5L893.7 450.8L895.5 457.2L897.3 450.2L899.1 440.6L900.9 447.7L902.8 447.4L904.6 440.2L906.4 443.9L908.2 442.1L910 446.1L911.8 440.8L913.6 447.9L915.4 447.5L917.2 446.5L919 448.3L920.8 454.2L922.6 448.8L924.4 446.7L926.2 442.9L928 448.2L929.8 455.9L931.6 450.9L933.4 446.9L935.2 448.3L937.1 448.6L938.9 447.7L940.7 452.4L942.5 453.3L944.3 442.4L946.1 453.9L947.9 456.9L949.7 454.5L951.5 454.1L953.3 448.5L955.1 455.9L956.9 444.8L958.7 449.8L960.5 446.6L962.3 450.7L964.1 453.8L965.9 450.6L967.7 451L969.6 451.3L971.4 452.2L973.2 448.1L975 449.5L976.8 452.9L978.6 457.3L980.4 456.6L982.2 456.5L984 453.6L985.8 452.1L987.6 453.5L989.4 456.4L991.2 454.6L993 455.4L994.8 457.5L996.6 468.7L998.4 462.1L1000.2 459.5L1002 460.3L1003.9 458.4L1005.7 460.5L1007.5 462L1009.3 462.3L1011.1 456.8L1012.9 462.1L1014.7 464.4L1016.5 460.5L1018.3 462.6L1020.1 462.7L1021.9 465.4L1023.7 462.8L1025.5 466.3L1027.3 467.6L1029.1 471.1L1030.9 463.5L1032.7 460.6L1034.5 466L1036.3 468.5L1038.2 468L1040 460.7L1041.8 468.9L1043.6 460.4L1045.4 469.2L1047.2 464.9L1049 460.5L1050.8 467.3L1052.6 465.6L1054.4 465.7L1056.2 457.6L1058 460.3L1059.8 454.3L1061.6 468.6L1063.4 460.8L1065.2 459.3L1067 455.4L1068.8 457.7L1070.7 458L1072.5 455.9L1074.3 454.8L1076.1 457.5L1077.9 450.5L1079.7 450.4L1081.5 456.4L1083.3 454.3L1085.1 449.7L1086.9 451.5L1088.7 452.3L1090.5 446.3L1092.3 449.8L1094.1 446.5L1095.9 448.7L1097.7 452.2L1099.5 448.1L1101.3 440.1L1103.1 442.6L1105 441.9L1106.8 440.8L1108.6 435.3L1110.4 440.3L1112.2 445.1L1114 444.5L1115.8 442.8L1117.6 437.2L1119.4 449.5L1121.2 442.5L1123 449.2L1124.8 445.9L1126.6 450.1L1128.4 446.1L1130.2 446.5L1132 451.6L1133.8 449L1135.6 440.8L1137.5 447.3L1139.3 451L1141.1 448.1L1142.9 447.2L1144.7 456.1L1146.5 445.8L1148.3 449L1150.1 462.2L1151.9 444.7L1153.7 452.1L1155.5 466.2L1157.3 453.4L1159.1 446.6L1160.9 446.3L1162.7 454.8L1164.5 454.3L1166.3 451.3L1168.1 456.7L1169.9 450.5L1171.8 457.2L1173.6 457.3L1175.4 446.9L1177.2 458.7L1179 453.4L1180.8 449.2L1182.6 451.6L1184.4 451.7L1186.2 446.9L1188 457L1189.8 444.1L1191.6 456.6L1193.4 458.7L1195.2 450.3L1197 456.8L1198.8 454.4L1200.6 450.7L1202.4 456.7L1204.2 458.5L1206.1 465.1L1207.9 457.6L1209.7 454.7L1211.5 462.7L1213.3 459.1L1215.1 456.9L1216.9 461.2L1218.7 455.1L1220.5 456.9L1222.3 462.8L1224.1 456.7L1225.9 457.6L1227.7 450.7L1229.5 461.6L1231.3 462.7L1233.1 463.5L1234.9 466.9L1236.7 462.2L1238.6 458.4L1240.4 455L1242.2 454.4L1244 453.8L1245.8 458.9L1247.6 453.9L1249.4 456L1251.2 455.6L1253 448.9L1254.8 462.2L1256.6 455.4L1258.4 456.9L1260.2 459.5L1262 455.3L1263.8 446.8L1265.6 454.7L1267.4 454.3L1269.2 448.3L1271 467L1272.9 449.9L1274.7 454.6L1276.5 447.7L1278.3 450.6L1280.1 453.6L1281.9 448.1L1283.7 448.4L1285.5 441L1287.3 438.6L1289.1 432.1L1290.9 439.6L1292.7 432.9L1294.5 430.1L1296.3 429.6L1298.1 427.8L1299.9 429L1301.7 427.1L1303.5 437.6L1305.3 427.7L1307.2 430.3L1309 427L1310.8 425.6L1312.6 430.1L1314.4 427.9L1316.2 430.5L1318 427.3L1319.8 423.3L1321.6 429.3L1323.4 426.7L1325.2 420.6L1327 429.9L1328.8 428.7L1330.6 423.4L1332.4 426.2L1334.2 420.7L1336 428.8L1337.8 427.4L1339.7 424.7L1341.5 426.9L1343.3 437.7L1345.1 429L1346.9 424.6L1348.7 423.4L1350.5 429.2L1352.3 428.6L1354.1 422.3L1355.9 423.8L1357.7 430.6L1359.5 428.1L1361.3 425.8L1363.1 429L1364.9 420.9L1366.7 421.2L1368.5 424.6L1370.3 423L1372.1 429.6L1374 417.1L1375.8 425.8L1377.6 426.5L1379.4 425.8L1381.2 424.3L1383 426.7L1384.8 422.2L1386.6 421.3L1388.4 429.4L1390.2 424.9L1392 422.5L1393.8 430L1395.6 428.1L1397.4 422.5L1399.2 421.7L1401 422.7L1402.8 424.6L1404.6 421.6L1406.4 417.5L1408.3 423L1410.1 424.3L1411.9 425.7L1413.7 423L1415.5 422L1417.3 425.5L1419.1 429.9L1420.9 423.9L1422.7 429.1L1424.5 424.4L1426.3 428.9L1428.1 430.1L1429.9 425.9L1431.7 435.9L1433.5 422.4L1435.3 426.9L1437.1 431.4L1438.9 431.7L1440.8 426.2L1442.6 430.5L1444.4 428L1446.2 433L1448 436.9L1449.8 427.5L1451.6 430.9L1453.4 439.2L1455.2 425.4L1457 431.1L1458.8 431.8L1460.6 427.1L1462.4 426.7L1464.2 419.8L1466 419.7L1467.8 421.2L1469.6 412.6L1471.4 421.8L1473.2 418.3L1475.1 418.7L1476.9 416.1L1478.7 415.8L1480.5 418.1L1482.3 421.4L1484.1 413.3L1485.9 408.3L1487.7 407.7L1489.5 416.7L1491.3 403.6L1493.1 410.6L1494.9 389.6L1496.7 404.1L1498.5 400.3L1500.3 402.7L1502.1 399.6L1503.9 402.4L1505.7 399.3L1507.5 399.1L1509.4 398.7L1511.2 404L1513 396.1L1514.8 393L1516.6 394.5L1518.4 404.8L1520.2 401.7L1522 404.7L1523.8 385.4L1525.6 393.8L1527.4 395.5L1529.2 397.5L1531 399.9L1532.8 402.7L1534.6 396.6L1536.4 398.7L1538.2 403.7L1540 390.3L1541.9 386.7L1543.7 403.6L1545.5 398.3L1547.3 406.3L1549.1 397.9L1550.9 400.2L1552.7 395.4L1554.5 396.6L1556.3 390.9L1558.1 394.3L1559.9 395.3L1561.7 397.5L1563.5 391.9L1565.3 397.4L1567.1 390.1L1568.9 384.4L1570.7 395.2L1572.5 399.9L1574.3 392.1L1576.2 395.4L1578 392.9L1579.8 387.4L1581.6 389.6L1583.4 388.1L1585.2 392.9L1587 393.3L1588.8 384L1590.6 388.5L1592.4 393.3L1594.2 390.8L1596 388.7L1597.8 398.5L1599.6 391.2L1601.4 392.3L1603.2 396.5L1605 395.2L1606.8 393.6L1608.6 405.2L1610.5 401.8L1612.3 400.2L1614.1 397.7L1615.9 391.5L1617.7 398.5L1619.5 397.2L1621.3 399.7L1623.1 400.1L1624.9 394.6L1626.7 395.7L1628.5 395.3L1630.3 394.5L1632.1 399.7L1633.9 397.8L1635.7 402.3L1637.5 404L1639.3 396.9L1641.1 393.7L1643 394.1L1644.8 386.8L1646.6 398.7L1648.4 399.4L1650.2 388.8L1652 391.7L1653.8 392.9L1655.6 396.6L1657.4 395.6L1659.2 386.8L1661 391.3L1662.8 385.6L1664.6 396.9L1666.4 395L1668.2 383.9L1670 389.8L1671.8 393.6L1673.6 382.8L1675.4 386.9L1677.3 383.6L1679.1 386.5L1680.9 380.3L1682.7 376.4L1684.5 381.4L1686.3 372.5L1688.1 374L1689.9 379.4L1691.7 373.5L1693.5 376.1L1695.3 372L1697.1 371.8L1698.9 371.1L1700.7 369.7L1702.5 367.9L1704.3 360.2L1706.1 360.4L1707.9 373.8L1709.7 366.5L1711.6 360L1713.4 368.7L1715.2 363L1717 365.5L1718.8 367.9L1720.6 369.3L1722.4 367.9L1724.2 365.6L1726 361.6L1727.8 373.6L1729.6 363.2L1731.4 369.9L1733.2 364.9L1735 367.1L1736.8 363.3L1738.6 369.3L1740.4 368.6L1742.2 362.9L1744.1 369.3L1745.9 366.9L1747.7 361.6L1749.5 367.2L1751.3 360.9L1753.1 374.6L1754.9 358.3L1756.7 367.5L1758.5 361.7L1760.3 368.7L1762.1 358.9L1763.9 365.3L1765.7 365.3L1767.5 357.1L1769.3 361.6L1771.1 367.9L1772.9 365.9L1774.7 368.1L1776.5 357.9L1778.4 371.7L1780.2 368.7L1782 359.8L1783.8 354L1785.6 368.1L1787.4 362L1789.2 363.4L1791 371.4L1792.8 360.2L1794.6 354.5L1796.4 363.9L1798.2 360.4L1800 356.2L1801.8 359.3L1803.6 367.5L1805.4 369.8L1807.2 366.1"/></g><line x1="1605.3" y1="148" x2="1605.3" y2="605" stroke="#ffd24d" stroke-width="3.75"/><line x1="1795.4" y1="148" x2="1795.4" y2="604.5" stroke="#000" stroke-width="5" stroke-dasharray="9.75 9"/><rect x="1535" y="621.6" width="297" height="40" rx="20" ry="20" fill="#fff" stroke="#b0b0b0" stroke-width="1.5"/><text class="ax" x="1683.5" y="647.3" text-anchor="middle">Apr 16, 2022, 7:23:01 PM</text></svg>
<svg class="icons" width="1877" height="200" viewBox="0 0 1877 200">
<g fill="none" stroke="#1e88e5" stroke-width="2.5">
<path d="M1787.3 50.6A10 10 0 1 0 1784.3 57.8"/>
</g>
<path d="M1782.6 51.1H1791.8L1787.3 55.7Z" fill="#1e88e5"/>
<g fill="#1e88e5"><circle cx="1830.9" cy="43.3" r="2.6"/><circle cx="1830.9" cy="50.8" r="2.6"/><circle cx="1830.9" cy="58.3" r="2.6"/></g>
<path d="M1856.5 109.2H1866.5L1861.5 104.2Z" fill="#a3a3a3"/>
<path d="M1856.5 121.2H1866.5L1861.5 126.2Z" fill="#505050"/>
<line x1="1853.2" y1="114.5" x2="1869.8" y2="114.5" stroke="#c2c2c2" stroke-width="1"/>
<path d="M1851.7 148.9L1841.4 159.2L1851.7 169.5" fill="none" stroke="#1e88e5" stroke-width="3.5"/>
</svg>
</body></html>
